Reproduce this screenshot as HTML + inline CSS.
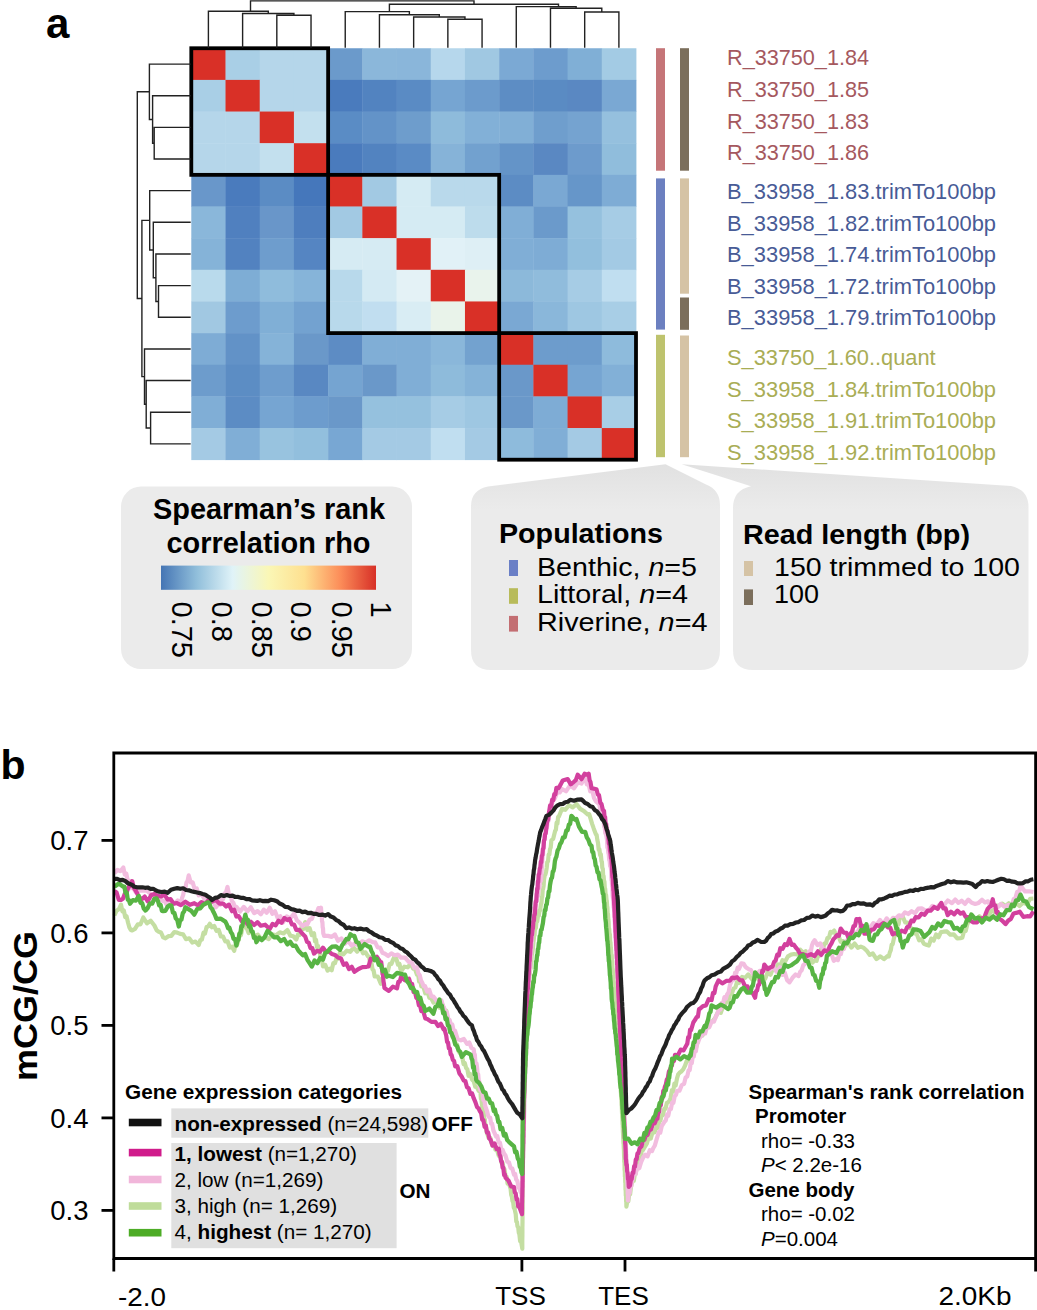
<!DOCTYPE html>
<html><head><meta charset="utf-8"><style>
html,body{margin:0;padding:0;background:#fff;overflow:hidden;}
svg{display:block;}
text{font-family:"Liberation Sans",sans-serif;}
</style></head><body>
<svg width="1037" height="1310" viewBox="0 0 1037 1310" font-family="Liberation Sans, sans-serif">
<rect x="191.3" y="48.25" width="34.61" height="32.05" fill="#d93027"/>
<rect x="225.51" y="48.25" width="34.61" height="32.05" fill="#a9cfe6"/>
<rect x="259.72" y="48.25" width="34.61" height="32.05" fill="#b5d6ea"/>
<rect x="293.92" y="48.25" width="34.61" height="32.05" fill="#b5d6ea"/>
<rect x="328.13" y="48.25" width="34.61" height="32.05" fill="#6b9acb"/>
<rect x="362.34" y="48.25" width="34.61" height="32.05" fill="#8bb7da"/>
<rect x="396.55" y="48.25" width="34.61" height="32.05" fill="#8ab6da"/>
<rect x="430.75" y="48.25" width="34.61" height="32.05" fill="#b6d7ec"/>
<rect x="464.96" y="48.25" width="34.61" height="32.05" fill="#a0c8e2"/>
<rect x="499.17" y="48.25" width="34.61" height="32.05" fill="#7ba9d4"/>
<rect x="533.38" y="48.25" width="34.61" height="32.05" fill="#6d9ccd"/>
<rect x="567.58" y="48.25" width="34.61" height="32.05" fill="#80afd6"/>
<rect x="601.79" y="48.25" width="34.61" height="32.05" fill="#a3cbe4"/>
<rect x="191.3" y="79.9" width="34.61" height="32.05" fill="#a9cfe6"/>
<rect x="225.51" y="79.9" width="34.61" height="32.05" fill="#d93027"/>
<rect x="259.72" y="79.9" width="34.61" height="32.05" fill="#b5d6ea"/>
<rect x="293.92" y="79.9" width="34.61" height="32.05" fill="#b5d6ea"/>
<rect x="328.13" y="79.9" width="34.61" height="32.05" fill="#4a7bbd"/>
<rect x="362.34" y="79.9" width="34.61" height="32.05" fill="#5283c0"/>
<rect x="396.55" y="79.9" width="34.61" height="32.05" fill="#5a8bc4"/>
<rect x="430.75" y="79.9" width="34.61" height="32.05" fill="#76a5d2"/>
<rect x="464.96" y="79.9" width="34.61" height="32.05" fill="#6c9bcc"/>
<rect x="499.17" y="79.9" width="34.61" height="32.05" fill="#5d8dc4"/>
<rect x="533.38" y="79.9" width="34.61" height="32.05" fill="#5a8bc3"/>
<rect x="567.58" y="79.9" width="34.61" height="32.05" fill="#5a88c2"/>
<rect x="601.79" y="79.9" width="34.61" height="32.05" fill="#7aa8d3"/>
<rect x="191.3" y="111.55" width="34.61" height="32.05" fill="#b5d6ea"/>
<rect x="225.51" y="111.55" width="34.61" height="32.05" fill="#b5d6ea"/>
<rect x="259.72" y="111.55" width="34.61" height="32.05" fill="#d93027"/>
<rect x="293.92" y="111.55" width="34.61" height="32.05" fill="#c3e0ee"/>
<rect x="328.13" y="111.55" width="34.61" height="32.05" fill="#5a8cc5"/>
<rect x="362.34" y="111.55" width="34.61" height="32.05" fill="#6393c8"/>
<rect x="396.55" y="111.55" width="34.61" height="32.05" fill="#6e9dcc"/>
<rect x="430.75" y="111.55" width="34.61" height="32.05" fill="#8ebbdb"/>
<rect x="464.96" y="111.55" width="34.61" height="32.05" fill="#82b0d7"/>
<rect x="499.17" y="111.55" width="34.61" height="32.05" fill="#81afd6"/>
<rect x="533.38" y="111.55" width="34.61" height="32.05" fill="#6f9ecd"/>
<rect x="567.58" y="111.55" width="34.61" height="32.05" fill="#75a3d0"/>
<rect x="601.79" y="111.55" width="34.61" height="32.05" fill="#95c0de"/>
<rect x="191.3" y="143.2" width="34.61" height="32.05" fill="#b5d6ea"/>
<rect x="225.51" y="143.2" width="34.61" height="32.05" fill="#b5d6ea"/>
<rect x="259.72" y="143.2" width="34.61" height="32.05" fill="#c3e0ee"/>
<rect x="293.92" y="143.2" width="34.61" height="32.05" fill="#d93027"/>
<rect x="328.13" y="143.2" width="34.61" height="32.05" fill="#4a7bbd"/>
<rect x="362.34" y="143.2" width="34.61" height="32.05" fill="#5283c0"/>
<rect x="396.55" y="143.2" width="34.61" height="32.05" fill="#5a8bc5"/>
<rect x="430.75" y="143.2" width="34.61" height="32.05" fill="#86b3d8"/>
<rect x="464.96" y="143.2" width="34.61" height="32.05" fill="#72a1cf"/>
<rect x="499.17" y="143.2" width="34.61" height="32.05" fill="#6494c8"/>
<rect x="533.38" y="143.2" width="34.61" height="32.05" fill="#5a88c2"/>
<rect x="567.58" y="143.2" width="34.61" height="32.05" fill="#6d9bcc"/>
<rect x="601.79" y="143.2" width="34.61" height="32.05" fill="#90bddc"/>
<rect x="191.3" y="174.85" width="34.61" height="32.05" fill="#6997ca"/>
<rect x="225.51" y="174.85" width="34.61" height="32.05" fill="#4a7bbd"/>
<rect x="259.72" y="174.85" width="34.61" height="32.05" fill="#5b8cc4"/>
<rect x="293.92" y="174.85" width="34.61" height="32.05" fill="#4577bb"/>
<rect x="328.13" y="174.85" width="34.61" height="32.05" fill="#d93027"/>
<rect x="362.34" y="174.85" width="34.61" height="32.05" fill="#a2c9e3"/>
<rect x="396.55" y="174.85" width="34.61" height="32.05" fill="#d5ebf3"/>
<rect x="430.75" y="174.85" width="34.61" height="32.05" fill="#b9d9eb"/>
<rect x="464.96" y="174.85" width="34.61" height="32.05" fill="#b9d9eb"/>
<rect x="499.17" y="174.85" width="34.61" height="32.05" fill="#5c8cc4"/>
<rect x="533.38" y="174.85" width="34.61" height="32.05" fill="#7aa8d3"/>
<rect x="567.58" y="174.85" width="34.61" height="32.05" fill="#6696c9"/>
<rect x="601.79" y="174.85" width="34.61" height="32.05" fill="#7eacd5"/>
<rect x="191.3" y="206.5" width="34.61" height="32.05" fill="#8ab7da"/>
<rect x="225.51" y="206.5" width="34.61" height="32.05" fill="#5080bf"/>
<rect x="259.72" y="206.5" width="34.61" height="32.05" fill="#6996c9"/>
<rect x="293.92" y="206.5" width="34.61" height="32.05" fill="#4e7ebe"/>
<rect x="328.13" y="206.5" width="34.61" height="32.05" fill="#a2c9e3"/>
<rect x="362.34" y="206.5" width="34.61" height="32.05" fill="#d93027"/>
<rect x="396.55" y="206.5" width="34.61" height="32.05" fill="#d5ebf3"/>
<rect x="430.75" y="206.5" width="34.61" height="32.05" fill="#d5ebf3"/>
<rect x="464.96" y="206.5" width="34.61" height="32.05" fill="#bddcec"/>
<rect x="499.17" y="206.5" width="34.61" height="32.05" fill="#80aed6"/>
<rect x="533.38" y="206.5" width="34.61" height="32.05" fill="#6b9acb"/>
<rect x="567.58" y="206.5" width="34.61" height="32.05" fill="#95c1de"/>
<rect x="601.79" y="206.5" width="34.61" height="32.05" fill="#a6cce5"/>
<rect x="191.3" y="238.15" width="34.61" height="32.05" fill="#85b3d8"/>
<rect x="225.51" y="238.15" width="34.61" height="32.05" fill="#5282c0"/>
<rect x="259.72" y="238.15" width="34.61" height="32.05" fill="#6e9dcd"/>
<rect x="293.92" y="238.15" width="34.61" height="32.05" fill="#5585c2"/>
<rect x="328.13" y="238.15" width="34.61" height="32.05" fill="#d6ebf3"/>
<rect x="362.34" y="238.15" width="34.61" height="32.05" fill="#d6ebf3"/>
<rect x="396.55" y="238.15" width="34.61" height="32.05" fill="#d93027"/>
<rect x="430.75" y="238.15" width="34.61" height="32.05" fill="#e1f1f7"/>
<rect x="464.96" y="238.15" width="34.61" height="32.05" fill="#deeff5"/>
<rect x="499.17" y="238.15" width="34.61" height="32.05" fill="#80aed6"/>
<rect x="533.38" y="238.15" width="34.61" height="32.05" fill="#7eacd5"/>
<rect x="567.58" y="238.15" width="34.61" height="32.05" fill="#92bfdd"/>
<rect x="601.79" y="238.15" width="34.61" height="32.05" fill="#a3cae4"/>
<rect x="191.3" y="269.8" width="34.61" height="32.05" fill="#b9daec"/>
<rect x="225.51" y="269.8" width="34.61" height="32.05" fill="#7eadd5"/>
<rect x="259.72" y="269.8" width="34.61" height="32.05" fill="#8fbcdc"/>
<rect x="293.92" y="269.8" width="34.61" height="32.05" fill="#86b4d9"/>
<rect x="328.13" y="269.8" width="34.61" height="32.05" fill="#b8d9eb"/>
<rect x="362.34" y="269.8" width="34.61" height="32.05" fill="#d4eaf3"/>
<rect x="396.55" y="269.8" width="34.61" height="32.05" fill="#e4f2f6"/>
<rect x="430.75" y="269.8" width="34.61" height="32.05" fill="#d93027"/>
<rect x="464.96" y="269.8" width="34.61" height="32.05" fill="#e9f3ec"/>
<rect x="499.17" y="269.8" width="34.61" height="32.05" fill="#8cb9da"/>
<rect x="533.38" y="269.8" width="34.61" height="32.05" fill="#90bcdc"/>
<rect x="567.58" y="269.8" width="34.61" height="32.05" fill="#a6cce5"/>
<rect x="601.79" y="269.8" width="34.61" height="32.05" fill="#c0def0"/>
<rect x="191.3" y="301.45" width="34.61" height="32.05" fill="#a1c8e2"/>
<rect x="225.51" y="301.45" width="34.61" height="32.05" fill="#6d9ccd"/>
<rect x="259.72" y="301.45" width="34.61" height="32.05" fill="#80afd6"/>
<rect x="293.92" y="301.45" width="34.61" height="32.05" fill="#73a2d0"/>
<rect x="328.13" y="301.45" width="34.61" height="32.05" fill="#b8d9eb"/>
<rect x="362.34" y="301.45" width="34.61" height="32.05" fill="#c1def0"/>
<rect x="396.55" y="301.45" width="34.61" height="32.05" fill="#d9edf4"/>
<rect x="430.75" y="301.45" width="34.61" height="32.05" fill="#e9f3ea"/>
<rect x="464.96" y="301.45" width="34.61" height="32.05" fill="#d93027"/>
<rect x="499.17" y="301.45" width="34.61" height="32.05" fill="#7aa8d3"/>
<rect x="533.38" y="301.45" width="34.61" height="32.05" fill="#8ab7da"/>
<rect x="567.58" y="301.45" width="34.61" height="32.05" fill="#9ec7e2"/>
<rect x="601.79" y="301.45" width="34.61" height="32.05" fill="#a8cee6"/>
<rect x="191.3" y="333.1" width="34.61" height="32.05" fill="#7eacd5"/>
<rect x="225.51" y="333.1" width="34.61" height="32.05" fill="#6292c7"/>
<rect x="259.72" y="333.1" width="34.61" height="32.05" fill="#85b3d8"/>
<rect x="293.92" y="333.1" width="34.61" height="32.05" fill="#6a98c9"/>
<rect x="328.13" y="333.1" width="34.61" height="32.05" fill="#5d8cc4"/>
<rect x="362.34" y="333.1" width="34.61" height="32.05" fill="#80aed6"/>
<rect x="396.55" y="333.1" width="34.61" height="32.05" fill="#80aed6"/>
<rect x="430.75" y="333.1" width="34.61" height="32.05" fill="#8ab7da"/>
<rect x="464.96" y="333.1" width="34.61" height="32.05" fill="#73a2cf"/>
<rect x="499.17" y="333.1" width="34.61" height="32.05" fill="#d93027"/>
<rect x="533.38" y="333.1" width="34.61" height="32.05" fill="#6d9ccc"/>
<rect x="567.58" y="333.1" width="34.61" height="32.05" fill="#6d9ccc"/>
<rect x="601.79" y="333.1" width="34.61" height="32.05" fill="#8ebbdc"/>
<rect x="191.3" y="364.75" width="34.61" height="32.05" fill="#6d9ccc"/>
<rect x="225.51" y="364.75" width="34.61" height="32.05" fill="#5c8dc4"/>
<rect x="259.72" y="364.75" width="34.61" height="32.05" fill="#6e9dcd"/>
<rect x="293.92" y="364.75" width="34.61" height="32.05" fill="#5988c2"/>
<rect x="328.13" y="364.75" width="34.61" height="32.05" fill="#75a4d1"/>
<rect x="362.34" y="364.75" width="34.61" height="32.05" fill="#6a98c9"/>
<rect x="396.55" y="364.75" width="34.61" height="32.05" fill="#80aed6"/>
<rect x="430.75" y="364.75" width="34.61" height="32.05" fill="#8ebbdb"/>
<rect x="464.96" y="364.75" width="34.61" height="32.05" fill="#85b3d8"/>
<rect x="499.17" y="364.75" width="34.61" height="32.05" fill="#6a98c9"/>
<rect x="533.38" y="364.75" width="34.61" height="32.05" fill="#d93027"/>
<rect x="567.58" y="364.75" width="34.61" height="32.05" fill="#76a5d2"/>
<rect x="601.79" y="364.75" width="34.61" height="32.05" fill="#82b0d7"/>
<rect x="191.3" y="396.4" width="34.61" height="32.05" fill="#80aed6"/>
<rect x="225.51" y="396.4" width="34.61" height="32.05" fill="#5c8cc4"/>
<rect x="259.72" y="396.4" width="34.61" height="32.05" fill="#76a5d2"/>
<rect x="293.92" y="396.4" width="34.61" height="32.05" fill="#6d9ccd"/>
<rect x="328.13" y="396.4" width="34.61" height="32.05" fill="#6a98c9"/>
<rect x="362.34" y="396.4" width="34.61" height="32.05" fill="#95c1de"/>
<rect x="396.55" y="396.4" width="34.61" height="32.05" fill="#95c1de"/>
<rect x="430.75" y="396.4" width="34.61" height="32.05" fill="#a6cce5"/>
<rect x="464.96" y="396.4" width="34.61" height="32.05" fill="#9ec7e2"/>
<rect x="499.17" y="396.4" width="34.61" height="32.05" fill="#6a98c9"/>
<rect x="533.38" y="396.4" width="34.61" height="32.05" fill="#7eacd5"/>
<rect x="567.58" y="396.4" width="34.61" height="32.05" fill="#d93027"/>
<rect x="601.79" y="396.4" width="34.61" height="32.05" fill="#a8cee6"/>
<rect x="191.3" y="428.05" width="34.61" height="32.05" fill="#a4cae4"/>
<rect x="225.51" y="428.05" width="34.61" height="32.05" fill="#80aed6"/>
<rect x="259.72" y="428.05" width="34.61" height="32.05" fill="#98c3df"/>
<rect x="293.92" y="428.05" width="34.61" height="32.05" fill="#92bfdd"/>
<rect x="328.13" y="428.05" width="34.61" height="32.05" fill="#78a7d3"/>
<rect x="362.34" y="428.05" width="34.61" height="32.05" fill="#a4cae4"/>
<rect x="396.55" y="428.05" width="34.61" height="32.05" fill="#a4cae4"/>
<rect x="430.75" y="428.05" width="34.61" height="32.05" fill="#c0def0"/>
<rect x="464.96" y="428.05" width="34.61" height="32.05" fill="#a4cae4"/>
<rect x="499.17" y="428.05" width="34.61" height="32.05" fill="#8ebbdc"/>
<rect x="533.38" y="428.05" width="34.61" height="32.05" fill="#80aed6"/>
<rect x="567.58" y="428.05" width="34.61" height="32.05" fill="#a4cae4"/>
<rect x="601.79" y="428.05" width="34.61" height="32.05" fill="#d93027"/>
<rect x="191.3" y="48.25" width="136.83" height="126.6" fill="none" stroke="#000" stroke-width="3.8"/>
<rect x="328.13" y="174.85" width="171.04" height="158.25" fill="none" stroke="#000" stroke-width="3.8"/>
<rect x="499.17" y="333.1" width="136.83" height="126.6" fill="none" stroke="#000" stroke-width="3.8"/>
<path d="M276.82 15.3L311.03 15.3M276.82 15.3L276.82 47M311.03 15.3L311.03 47M242.61 13.5L293.92 13.5M293.92 13.5L293.92 15.3M242.61 13.5L242.61 47M208.4 11.3L268.27 11.3M268.27 11.3L268.27 13.5M208.4 11.3L208.4 47M250.5 0.9L250.5 11.3M447.86 19.3L482.07 19.3M447.86 19.3L447.86 47M482.07 19.3L482.07 47M413.65 17L464.96 17M464.96 17L464.96 19.3M413.65 17L413.65 47M379.44 14.7L439.31 14.7M439.31 14.7L439.31 17M379.44 14.7L379.44 47M345.23 11.6L409.37 11.6M409.37 11.6L409.37 14.7M345.23 11.6L345.23 47M389.4 4.3L389.4 11.6M584.69 12L618.9 12M584.69 12L584.69 47M618.9 12L618.9 47M550.48 8.2L601.79 8.2M601.79 8.2L601.79 12M550.48 8.2L550.48 47M516.27 6.6L576.14 6.6M576.14 6.6L576.14 8.2M516.27 6.6L516.27 47M558.5 4.3L558.5 6.6M389.4 4.3L558.5 4.3M474 0.9L474 4.3M250.5 0.9L474 0.9M154.2 127.38L154.2 159.02M154.2 127.38L190 127.38M154.2 159.02L190 159.02M152.6 95.72L152.6 143.2M152.6 143.2L154.2 143.2M152.6 95.72L190 95.72M149.4 64.08L149.4 119.46M149.4 119.46L152.6 119.46M149.4 64.08L190 64.08M137.3 91.77L149.4 91.77M158.5 285.62L158.5 317.27M158.5 285.62L190 285.62M158.5 317.27L190 317.27M155.9 253.97L155.9 301.45M155.9 301.45L158.5 301.45M155.9 253.97L190 253.97M153.3 222.32L153.3 277.71M153.3 277.71L155.9 277.71M153.3 222.32L190 222.32M149.7 190.67L149.7 250.02M149.7 250.02L153.3 250.02M149.7 190.67L190 190.67M141.9 220.35L149.7 220.35M150.6 412.22L150.6 443.88M150.6 412.22L190 412.22M150.6 443.88L190 443.88M146.2 380.57L146.2 428.05M146.2 428.05L150.6 428.05M146.2 380.57L190 380.57M144.5 348.93L144.5 404.31M144.5 404.31L146.2 404.31M144.5 348.93L190 348.93M141.9 376.62L144.5 376.62M141.9 220.35L141.9 376.62M137.3 298.48L141.9 298.48M137.3 91.77L137.3 298.48" stroke="#222" stroke-width="1.4" fill="none" stroke-linecap="square"/>
<rect x="656" y="48.2" width="9" height="122.5" fill="#c57578"/>
<rect x="656" y="178.4" width="9" height="151.2" fill="#6c80c0"/>
<rect x="656" y="334.8" width="9" height="122.4" fill="#bec36e"/>
<rect x="680" y="48.2" width="9" height="122.5" fill="#7b6e5b"/>
<rect x="680" y="178.4" width="9" height="115.3" fill="#d5c3a5"/>
<rect x="680" y="297.5" width="9" height="32.3" fill="#7b6e5b"/>
<rect x="680" y="335.5" width="9" height="121.7" fill="#d5c3a5"/>
<text x="727" y="65.1" font-size="21.5" fill="#a5585e" textLength="142" lengthAdjust="spacingAndGlyphs">R_33750_1.84</text>
<text x="727" y="96.9" font-size="21.5" fill="#a5585e" textLength="142" lengthAdjust="spacingAndGlyphs">R_33750_1.85</text>
<text x="727" y="128.6" font-size="21.5" fill="#a5585e" textLength="142" lengthAdjust="spacingAndGlyphs">R_33750_1.83</text>
<text x="727" y="160.4" font-size="21.5" fill="#a5585e" textLength="142" lengthAdjust="spacingAndGlyphs">R_33750_1.86</text>
<text x="727" y="199.0" font-size="21.5" fill="#485b96" textLength="269" lengthAdjust="spacingAndGlyphs">B_33958_1.83.trimTo100bp</text>
<text x="727" y="230.5" font-size="21.5" fill="#485b96" textLength="269" lengthAdjust="spacingAndGlyphs">B_33958_1.82.trimTo100bp</text>
<text x="727" y="262.0" font-size="21.5" fill="#485b96" textLength="269" lengthAdjust="spacingAndGlyphs">B_33958_1.74.trimTo100bp</text>
<text x="727" y="293.5" font-size="21.5" fill="#485b96" textLength="269" lengthAdjust="spacingAndGlyphs">B_33958_1.72.trimTo100bp</text>
<text x="727" y="325.0" font-size="21.5" fill="#485b96" textLength="269" lengthAdjust="spacingAndGlyphs">B_33958_1.79.trimTo100bp</text>
<text x="727" y="364.9" font-size="21.5" fill="#a9ad55" textLength="208.6" lengthAdjust="spacingAndGlyphs">S_33750_1.60..quant</text>
<text x="727" y="396.6" font-size="21.5" fill="#a9ad55" textLength="269" lengthAdjust="spacingAndGlyphs">S_33958_1.84.trimTo100bp</text>
<text x="727" y="428.3" font-size="21.5" fill="#a9ad55" textLength="269" lengthAdjust="spacingAndGlyphs">S_33958_1.91.trimTo100bp</text>
<text x="727" y="460.0" font-size="21.5" fill="#a9ad55" textLength="269" lengthAdjust="spacingAndGlyphs">S_33958_1.92.trimTo100bp</text>
<defs><linearGradient id="wg" gradientUnits="userSpaceOnUse" x1="0" y1="464" x2="0" y2="510"><stop offset="0" stop-color="#e1e1e1"/><stop offset="1" stop-color="#ebebeb"/></linearGradient></defs>
<rect x="121" y="486.6" width="291" height="182.5" rx="20" fill="#ebebeb"/>
<path d="M665.5 464.2 L706 484.5 Q720 490 720 505 L720 650 Q720 670 700 670 L491 670 Q471 670 471 650 L471 506 Q471 490 488 486.4 Z" fill="url(#wg)"/>
<path d="M681.7 464.2 L1011 486 Q1028.5 490 1028.5 507 L1028.5 650 Q1028.5 670 1008.5 670 L753 670 Q733 670 733 650 L733 508 Q733 490 751 486.3 Z" fill="url(#wg)"/>
<defs><linearGradient id="cb" x1="0" x2="1" y1="0" y2="0"><stop offset="0" stop-color="#4575B4"/><stop offset="0.1667" stop-color="#91BFDB"/><stop offset="0.3333" stop-color="#E0F3F8"/><stop offset="0.5" stop-color="#faf7b6"/><stop offset="0.6667" stop-color="#FEE090"/><stop offset="0.8333" stop-color="#FC8D59"/><stop offset="1" stop-color="#D73027"/></linearGradient></defs>
<rect x="161" y="565.6" width="215" height="24.2" fill="url(#cb)"/>
<text x="153" y="519" font-size="29" font-weight="bold" textLength="232" lengthAdjust="spacingAndGlyphs">Spearman’s rank</text>
<text x="166.5" y="552.5" font-size="29" font-weight="bold" textLength="204" lengthAdjust="spacingAndGlyphs">correlation rho</text>
<text transform="translate(172.2 601.5) rotate(90)" x="0" y="0" font-size="29">0.75</text>
<text transform="translate(212.2 601.5) rotate(90)" x="0" y="0" font-size="29">0.8</text>
<text transform="translate(252.2 601.5) rotate(90)" x="0" y="0" font-size="29">0.85</text>
<text transform="translate(291.2 601.5) rotate(90)" x="0" y="0" font-size="29">0.9</text>
<text transform="translate(332.2 601.5) rotate(90)" x="0" y="0" font-size="29">0.95</text>
<text transform="translate(371.2 601.5) rotate(90)" x="0" y="0" font-size="29">1</text>
<text x="499" y="543.1" font-size="28" font-weight="bold" textLength="164" lengthAdjust="spacingAndGlyphs">Populations</text>
<rect x="509" y="560" width="9" height="16" fill="#6a7fc6"/>
<rect x="509" y="588.2" width="9" height="15.6" fill="#b8bb5a"/>
<rect x="509" y="615.9" width="9" height="15.7" fill="#c36e72"/>
<text x="537" y="575.6" font-size="26" textLength="160" lengthAdjust="spacingAndGlyphs">Benthic, <tspan font-style="italic">n</tspan>=5</text>
<text x="537" y="603.4" font-size="26" textLength="151" lengthAdjust="spacingAndGlyphs">Littoral, <tspan font-style="italic">n</tspan>=4</text>
<text x="537" y="630.8" font-size="26" textLength="170.5" lengthAdjust="spacingAndGlyphs">Riverine, <tspan font-style="italic">n</tspan>=4</text>
<text x="743" y="543.5" font-size="28" font-weight="bold" textLength="227" lengthAdjust="spacingAndGlyphs">Read length (bp)</text>
<rect x="744" y="561" width="9" height="15" fill="#d5c3a5"/>
<rect x="744" y="589.4" width="9" height="15.6" fill="#7b6e5b"/>
<text x="774" y="576" font-size="26" textLength="246" lengthAdjust="spacingAndGlyphs">150 trimmed to 100</text>
<text x="774" y="602.7" font-size="26" textLength="45" lengthAdjust="spacingAndGlyphs">100</text>
<text x="46" y="38" font-size="42" font-weight="bold">a</text>
<text x="0.5" y="779" font-size="41" font-weight="bold">b</text>
<rect x="171.3" y="1108.4" width="257" height="29.3" fill="#e0e0e0"/>
<rect x="171.3" y="1143" width="225.3" height="105.2" fill="#e0e0e0"/>
<path d="M114.4 915.4 L116.6 910.7 L118.8 909.3 L121.0 904.7 L122.4 911.4 L123.8 910.4 L125.2 917.0 L126.6 916.4 L128.0 922.5 L129.4 927.5 L130.8 929.9 L132.2 930.4 L135.0 928.9 L137.8 924.3 L140.5 924.3 L143.3 917.5 L147.0 923.4 L150.7 920.8 L154.4 925.5 L156.6 930.2 L158.8 931.7 L161.0 932.5 L163.2 937.4 L165.4 938.3 L168.4 936.2 L171.3 935.9 L174.3 932.0 L177.2 932.6 L180.2 933.9 L183.1 934.3 L186.0 939.2 L189.2 938.3 L192.3 942.6 L195.5 941.6 L198.7 945.0 L200.3 940.2 L201.9 939.5 L203.5 932.6 L205.0 933.6 L206.6 926.9 L208.2 926.4 L209.8 923.8 L212.0 927.3 L214.2 926.0 L216.5 930.9 L218.7 930.0 L220.9 936.5 L223.1 936.7 L225.3 941.3 L227.6 941.3 L229.8 947.6 L232.0 946.7 L234.2 950.8 L235.3 945.3 L236.4 945.7 L237.5 943.5 L238.6 939.7 L239.8 933.0 L240.9 935.3 L242.0 930.1 L243.1 927.3 L245.9 926.0 L248.6 933.1 L251.4 930.8 L254.2 936.6 L257.9 934.7 L261.5 939.4 L265.2 937.3 L268.8 939.1 L272.4 934.3 L276.0 935.2 L279.8 932.3 L283.6 933.4 L287.4 930.1 L290.4 935.8 L293.3 936.3 L296.3 939.5 L298.1 934.3 L299.9 934.9 L301.6 926.9 L303.4 928.9 L305.2 922.1 L307.4 929.9 L309.6 928.1 L311.8 935.2 L314.0 933.3 L315.0 941.2 L316.0 939.7 L317.0 947.1 L318.0 945.9 L318.9 951.8 L319.9 953.2 L320.9 959.7 L321.9 959.0 L322.9 966.3 L325.3 965.0 L327.6 970.6 L330.0 968.6 L331.7 970.2 L333.3 963.1 L335.0 963.1 L336.7 957.3 L338.3 958.6 L340.0 952.4 L343.4 954.4 L346.8 950.7 L350.2 951.8 L353.7 947.7 L357.1 951.6 L360.5 947.4 L363.0 953.3 L365.5 952.3 L368.0 956.3 L369.1 956.7 L370.2 963.6 L371.4 962.3 L372.5 969.3 L373.6 970.5 L374.7 976.5 L377.8 976.5 L380.8 983.7 L382.6 978.0 L384.4 975.9 L386.1 969.6 L387.9 971.0 L389.7 963.8 L391.4 963.9 L393.2 959.4 L395.0 955.5 L396.5 959.3 L398.0 964.6 L399.5 964.0 L401.0 971.6 L404.3 966.7 L407.7 967.3 L411.0 963.4 L413.0 968.6 L415.0 969.0 L417.0 974.7 L418.1 973.8 L419.1 981.5 L420.2 979.9 L421.3 986.5 L423.3 986.4 L425.3 993.3 L427.4 991.6 L429.4 997.8 L431.4 998.6 L433.4 1002.5 L436.4 1001.1 L439.5 1007.7 L442.6 1005.0 L445.6 1012.3 L446.3 1010.7 L447.1 1019.0 L447.8 1019.0 L448.5 1024.7 L449.3 1024.3 L450.0 1030.6 L451.4 1030.9 L452.8 1037.6 L454.2 1037.7 L455.7 1044.2 L457.1 1044.5 L458.5 1051.1 L459.8 1052.9 L461.0 1053.6 L462.3 1057.1 L463.6 1064.0 L464.8 1063.0 L466.1 1068.0 L467.3 1069.2 L468.6 1075.8 L470.3 1074.0 L472.0 1079.5 L473.7 1081.2 L475.3 1086.8 L477.0 1087.3 L478.7 1090.9 L480.4 1091.3 L480.9 1098.7 L481.5 1099.7 L482.0 1105.3 L482.6 1109.5 L483.1 1112.1 L483.7 1112.3 L484.2 1119.5 L484.8 1119.3 L485.4 1125.9 L485.9 1125.2 L486.4 1131.3 L487.0 1132.9 L488.7 1138.2 L490.4 1137.9 L492.1 1145.0 L493.8 1144.0 L495.4 1149.7 L497.1 1150.1 L498.8 1156.0 L500.5 1156.6 L501.5 1162.8 L502.5 1162.5 L503.5 1168.2 L504.5 1169.4 L505.6 1176.6 L506.6 1176.6 L507.6 1183.6 L508.6 1181.5 L509.6 1185.6 L510.6 1188.8 L511.2 1194.9 L511.9 1196.9 L512.5 1201.3 L513.1 1201.5 L513.8 1207.8 L514.4 1207.3 L515.0 1210.9 L515.7 1214.0 L516.3 1221.5 L516.9 1221.8 L517.5 1226.4 L518.2 1227.2 L518.8 1232.9 L519.4 1234.2 L520.1 1241.1 L520.7 1239.2 L522.3 1248.7 L522.3 1240.5 L522.3 1241.2 L522.4 1234.9 L522.4 1233.8 L522.4 1227.5 L522.4 1228.4 L522.5 1222.1 L522.5 1221.3 L522.5 1216.6 L522.5 1215.7 L522.6 1208.3 L522.6 1209.1 L522.6 1202.7 L522.6 1202.9 L522.6 1195.4 L522.7 1197.1 L522.7 1191.1 L522.7 1190.5 L522.7 1182.9 L522.8 1183.5 L522.8 1178.1 L522.8 1177.2 L522.8 1171.0 L522.9 1171.2 L522.9 1163.3 L522.9 1164.1 L522.9 1157.8 L523.0 1157.8 L523.0 1154.0 L523.0 1152.3 L523.1 1144.1 L523.1 1145.8 L523.2 1138.9 L523.3 1138.1 L523.3 1133.1 L523.4 1133.2 L523.5 1125.7 L523.5 1124.6 L523.6 1121.7 L523.6 1115.4 L523.7 1112.3 L523.8 1113.9 L523.8 1106.4 L523.9 1106.5 L524.0 1100.9 L524.0 1097.9 L524.1 1093.3 L524.2 1093.1 L524.2 1086.9 L524.3 1087.6 L524.4 1081.7 L524.4 1079.7 L524.5 1073.6 L524.5 1075.2 L524.6 1068.7 L524.7 1068.6 L524.7 1060.3 L524.8 1061.3 L524.9 1055.0 L524.9 1055.9 L525.0 1048.4 L525.2 1048.4 L525.4 1042.5 L525.6 1041.6 L525.8 1036.0 L526.0 1034.2 L526.1 1027.9 L526.3 1027.8 L526.5 1021.8 L526.7 1021.7 L526.9 1019.2 L527.1 1014.4 L527.3 1007.4 L527.5 1008.6 L527.7 1002.2 L527.9 1001.8 L528.0 994.7 L528.2 994.3 L528.4 987.2 L528.6 988.8 L528.8 982.6 L529.0 981.5 L529.4 975.9 L529.8 974.1 L530.2 967.9 L530.6 968.6 L531.0 961.7 L531.4 961.3 L531.8 954.2 L532.2 954.2 L532.6 950.7 L533.0 947.7 L533.4 942.2 L533.8 939.3 L534.2 933.9 L534.6 935.1 L535.0 927.4 L535.8 928.3 L536.5 921.2 L537.2 921.4 L538.0 915.9 L538.8 915.6 L539.5 910.5 L540.2 910.2 L541.0 903.8 L541.4 903.5 L541.9 897.0 L542.3 896.5 L542.7 889.9 L543.1 889.0 L543.6 886.0 L544.0 879.7 L544.7 875.6 L545.3 874.8 L546.0 872.2 L546.7 868.0 L547.3 862.0 L548.0 861.4 L548.7 854.5 L549.4 854.4 L550.0 849.3 L550.7 847.5 L551.4 840.3 L553.2 838.8 L555.1 830.9 L555.9 829.8 L556.6 822.7 L557.4 823.7 L558.1 816.9 L558.9 816.5 L562.0 808.8 L565.2 809.8 L569.0 805.2 L572.7 807.4 L576.5 804.1 L580.2 808.9 L584.0 811.1 L587.7 814.5 L589.2 814.1 L590.7 819.2 L592.2 824.1 L593.7 828.4 L595.2 832.4 L595.9 834.3 L596.6 834.7 L597.3 839.8 L598.0 842.7 L598.7 849.7 L599.4 849.3 L600.1 855.1 L600.8 854.2 L601.5 861.6 L601.9 861.6 L602.3 867.9 L602.8 868.6 L603.2 876.1 L603.6 876.0 L604.0 881.2 L604.4 881.3 L604.8 887.8 L605.2 888.9 L605.7 895.6 L606.1 894.9 L606.5 899.9 L606.8 900.8 L607.1 905.8 L607.4 907.3 L607.7 914.4 L608.0 914.0 L608.3 919.4 L608.6 921.6 L608.9 929.4 L609.2 928.9 L609.6 935.0 L609.9 934.3 L610.2 941.9 L610.5 942.4 L610.8 947.8 L611.1 950.1 L611.4 956.1 L611.7 954.9 L612.0 962.3 L612.2 960.9 L612.5 968.5 L612.7 968.8 L613.0 974.1 L613.2 975.1 L613.4 980.5 L613.7 982.2 L613.9 988.2 L614.1 987.7 L614.4 991.7 L614.6 994.9 L614.9 1002.4 L615.1 1002.1 L615.3 1007.9 L615.6 1007.8 L615.8 1015.4 L616.0 1015.2 L616.3 1022.7 L616.5 1024.2 L616.8 1028.1 L617.0 1028.9 L617.2 1034.8 L617.4 1033.6 L617.6 1040.6 L617.8 1041.6 L618.0 1047.8 L618.2 1047.9 L618.4 1054.5 L618.6 1054.6 L618.8 1060.1 L619.0 1062.4 L619.2 1066.5 L619.4 1066.1 L619.6 1072.4 L619.8 1072.7 L620.0 1079.5 L620.2 1081.7 L620.4 1085.5 L620.6 1086.8 L620.8 1091.5 L621.0 1093.6 L621.2 1099.2 L621.4 1098.0 L621.6 1104.9 L621.8 1106.2 L622.0 1112.1 L622.1 1114.8 L622.3 1118.3 L622.4 1118.3 L622.6 1124.8 L622.7 1124.6 L622.9 1131.5 L623.0 1133.0 L623.2 1137.9 L623.3 1139.1 L623.5 1143.7 L623.6 1143.0 L623.8 1148.5 L623.9 1149.2 L624.1 1157.5 L624.2 1157.0 L624.3 1162.3 L624.5 1162.3 L624.6 1170.2 L624.8 1169.2 L624.9 1176.7 L625.1 1174.6 L625.2 1182.2 L625.4 1182.4 L625.5 1189.6 L625.7 1190.6 L625.8 1195.6 L626.0 1193.8 L626.1 1201.4 L626.3 1201.0 L626.4 1206.7 L627.3 1201.5 L628.3 1201.4 L629.2 1194.2 L630.1 1194.4 L631.0 1187.1 L631.9 1183.1 L632.9 1181.0 L633.8 1180.8 L634.7 1175.2 L635.6 1174.1 L636.5 1168.4 L637.4 1167.2 L638.3 1162.4 L639.2 1160.7 L640.2 1155.4 L641.1 1155.8 L642.0 1148.3 L642.9 1150.1 L644.9 1146.7 L646.8 1143.6 L648.8 1136.9 L650.7 1138.6 L652.7 1131.6 L654.6 1132.3 L656.6 1126.4 L657.9 1127.8 L659.2 1121.6 L660.4 1120.5 L661.7 1115.2 L663.0 1115.2 L664.3 1108.6 L665.5 1108.7 L666.8 1103.1 L668.1 1102.2 L669.4 1101.1 L670.6 1097.9 L671.9 1090.0 L673.2 1091.5 L674.4 1083.6 L675.7 1085.5 L677.0 1078.3 L678.2 1074.3 L679.5 1072.8 L681.3 1071.5 L683.2 1069.4 L685.0 1065.8 L686.9 1060.5 L688.7 1060.6 L690.5 1053.1 L692.4 1054.3 L694.2 1047.4 L696.1 1047.8 L697.9 1040.3 L699.4 1038.1 L700.9 1035.0 L702.5 1035.6 L704.0 1027.8 L705.5 1029.3 L707.0 1022.9 L709.8 1022.7 L712.5 1021.2 L715.3 1017.7 L718.0 1011.8 L720.8 1012.9 L722.6 1007.8 L724.5 1006.8 L726.3 1001.5 L728.2 1001.7 L730.0 994.2 L731.8 993.5 L733.6 988.5 L735.4 987.5 L737.2 981.3 L739.0 982.9 L742.1 976.9 L745.1 977.8 L748.2 974.4 L752.1 979.4 L756.1 977.3 L760.0 981.1 L762.6 976.3 L765.2 978.8 L767.9 971.7 L770.5 974.7 L773.1 967.9 L775.7 969.7 L778.0 964.4 L780.3 966.1 L782.6 960.1 L784.9 962.0 L788.0 956.3 L791.0 954.6 L794.0 954.0 L797.1 954.5 L800.2 949.6 L803.2 952.7 L805.6 951.2 L807.9 957.2 L810.3 957.2 L812.6 962.5 L815.0 960.3 L816.6 960.8 L818.1 955.3 L819.7 955.6 L821.2 948.7 L822.8 950.8 L824.3 943.5 L825.9 943.4 L827.4 938.1 L829.0 937.7 L830.5 931.8 L832.1 932.5 L834.2 930.6 L836.4 936.5 L838.5 935.7 L840.7 941.8 L842.9 941.1 L845.0 946.0 L848.2 942.6 L851.4 947.6 L854.6 943.5 L857.8 947.8 L860.8 946.6 L863.8 947.9 L866.8 950.8 L869.8 954.9 L872.8 953.5 L876.5 959.1 L880.3 956.3 L884.0 959.1 L887.8 955.9 L888.8 956.5 L889.8 952.5 L890.8 950.1 L891.7 944.6 L892.7 944.2 L893.7 939.3 L894.7 935.2 L895.7 929.7 L896.7 931.2 L897.6 924.2 L898.6 924.1 L899.6 918.0 L900.6 917.3 L902.9 917.0 L905.2 922.4 L907.4 922.6 L909.7 927.9 L912.0 928.6 L914.4 933.2 L916.8 934.1 L919.1 940.4 L921.5 939.2 L923.9 943.9 L926.3 944.8 L928.8 945.6 L931.2 938.6 L933.7 940.6 L936.1 934.5 L938.6 937.2 L941.0 932.1 L943.5 931.7 L946.9 931.4 L950.3 934.7 L953.8 934.3 L957.2 938.3 L960.6 938.1 L962.3 937.8 L964.0 931.3 L965.7 931.1 L967.4 924.1 L969.1 920.6 L972.5 919.5 L976.0 920.2 L979.4 916.3 L982.9 919.4 L986.3 914.6 L988.9 916.2 L991.4 909.3 L994.0 912.0 L996.5 905.7 L999.1 905.8 L1002.3 903.6 L1005.5 906.4 L1008.8 903.3 L1012.0 905.9 L1015.8 902.8 L1019.5 906.0 L1023.2 902.6 L1027.0 904.3 L1030.2 898.8 L1033.4 898.5" fill="none" stroke="#c4dea2" stroke-width="4.2" stroke-linejoin="round" opacity="1.0"/>
<path d="M114.4 873.3 L117.4 869.8 L120.3 871.2 L123.3 867.5 L124.8 874.6 L126.3 873.6 L127.8 880.9 L129.2 880.6 L130.7 888.1 L132.2 886.4 L135.9 892.4 L139.6 890.3 L143.3 890.6 L147.0 890.7 L150.7 894.1 L154.4 895.8 L157.1 897.0 L159.7 896.5 L162.4 900.9 L165.0 901.5 L167.7 906.8 L171.0 901.8 L174.3 903.8 L177.7 900.5 L181.0 902.7 L182.1 897.7 L183.2 895.0 L184.3 888.4 L185.4 888.3 L186.5 882.4 L187.6 880.9 L188.7 875.3 L190.7 882.5 L192.7 882.4 L194.7 889.3 L196.7 888.4 L198.7 895.4 L201.6 894.0 L204.4 899.1 L207.3 897.4 L210.1 902.1 L213.0 900.1 L215.8 907.4 L218.7 904.0 L220.2 904.6 L221.6 898.1 L223.1 898.9 L224.6 893.4 L226.0 892.3 L227.5 886.9 L229.0 894.9 L230.5 894.9 L231.9 901.1 L233.4 902.9 L234.9 907.2 L236.4 906.8 L240.1 911.5 L243.8 906.9 L247.5 911.3 L250.8 907.2 L254.2 913.1 L257.5 911.1 L260.8 914.3 L263.8 909.6 L266.7 912.8 L269.7 907.7 L272.4 913.8 L275.0 911.3 L277.7 918.0 L280.3 916.2 L283.0 922.5 L286.7 916.5 L290.4 918.3 L294.1 913.6 L296.9 920.3 L299.6 922.6 L302.4 926.0 L305.2 924.2 L307.4 924.4 L309.6 919.6 L311.8 919.0 L314.1 913.2 L316.3 914.0 L318.5 908.0 L320.7 908.1 L321.0 907.7 L321.4 913.8 L321.7 914.1 L322.0 921.5 L322.4 921.9 L322.7 927.5 L323.0 928.1 L323.3 933.6 L323.7 934.2 L324.0 935.9 L327.9 935.9 L331.8 936.9 L334.9 934.4 L338.0 940.8 L341.4 938.4 L344.8 943.7 L348.2 940.9 L351.6 945.6 L355.0 943.2 L358.5 945.6 L362.1 941.3 L365.6 942.8 L369.2 940.3 L372.7 942.1 L375.2 942.3 L377.6 947.3 L380.1 947.5 L382.5 952.8 L385.0 953.8 L388.2 956.0 L391.4 953.3 L394.6 955.2 L397.8 954.6 L401.0 957.6 L405.0 957.5 L409.0 962.1 L411.7 962.3 L414.3 967.8 L417.0 967.2 L418.3 973.1 L419.7 975.1 L421.0 980.4 L422.3 982.8 L423.7 986.2 L425.0 986.1 L427.1 991.5 L429.2 989.7 L431.3 996.1 L433.4 996.6 L437.4 1001.7 L441.5 1000.5 L442.9 1005.8 L444.2 1008.2 L445.6 1012.7 L446.9 1012.1 L448.2 1018.7 L449.6 1019.8 L450.9 1024.4 L452.3 1024.4 L453.6 1030.6 L455.0 1030.7 L456.3 1034.9 L457.7 1039.1 L460.8 1040.3 L463.9 1039.0 L467.0 1043.9 L469.2 1042.4 L471.5 1048.0 L473.7 1049.3 L474.3 1054.3 L474.8 1054.4 L475.4 1062.4 L475.9 1064.3 L476.5 1063.5 L477.0 1066.7 L477.6 1073.6 L478.2 1074.3 L478.7 1080.3 L479.3 1081.5 L479.8 1088.2 L480.4 1090.2 L481.4 1091.0 L482.3 1092.2 L483.3 1100.0 L484.3 1099.9 L485.3 1106.3 L486.2 1108.6 L487.2 1111.6 L488.2 1116.0 L489.2 1117.4 L490.2 1117.7 L491.1 1123.6 L492.1 1123.7 L493.4 1130.5 L494.7 1133.3 L496.0 1136.6 L497.3 1136.1 L498.7 1142.4 L500.0 1142.8 L501.3 1149.3 L502.6 1149.7 L503.9 1153.2 L505.6 1155.7 L507.3 1161.8 L508.9 1162.2 L510.6 1167.9 L512.3 1168.5 L514.0 1174.7 L515.1 1174.0 L516.2 1179.5 L517.4 1181.1 L518.5 1187.3 L519.6 1188.9 L520.7 1192.5 L521.4 1193.1 L522.0 1201.0 L522.1 1194.8 L522.2 1195.1 L522.2 1190.0 L522.3 1186.4 L522.4 1182.4 L522.5 1182.8 L522.6 1175.6 L522.6 1175.7 L522.7 1168.9 L522.8 1168.9 L522.9 1163.7 L523.0 1162.7 L523.1 1155.1 L523.1 1152.6 L523.2 1150.9 L523.3 1149.2 L523.4 1144.2 L523.5 1142.4 L523.5 1137.5 L523.6 1137.6 L523.7 1130.2 L523.8 1131.3 L523.9 1124.3 L523.9 1124.5 L524.0 1119.1 L524.1 1116.7 L524.2 1113.9 L524.3 1111.5 L524.4 1104.2 L524.4 1100.5 L524.5 1098.5 L524.6 1098.1 L524.7 1091.4 L524.8 1091.4 L524.8 1085.0 L524.9 1085.9 L525.0 1078.2 L525.1 1079.0 L525.3 1071.8 L525.4 1069.6 L525.5 1064.4 L525.6 1065.6 L525.8 1057.9 L525.9 1058.9 L526.0 1052.0 L526.2 1053.3 L526.3 1045.2 L526.4 1045.9 L526.5 1040.5 L526.7 1038.7 L526.8 1032.8 L526.9 1032.5 L527.1 1028.6 L527.2 1027.6 L527.3 1024.6 L527.5 1020.2 L527.6 1014.3 L527.7 1014.4 L527.8 1006.6 L528.0 1007.0 L528.1 1001.0 L528.2 1000.0 L528.4 994.8 L528.5 994.6 L528.6 988.4 L528.7 988.2 L528.9 980.5 L529.0 978.9 L529.2 975.6 L529.5 970.9 L529.7 967.4 L530.0 968.8 L530.2 962.5 L530.4 957.6 L530.7 955.1 L530.9 954.3 L531.1 951.6 L531.4 949.3 L531.6 942.7 L531.9 942.1 L532.1 935.0 L532.3 934.4 L532.6 929.2 L532.8 929.2 L533.0 923.4 L533.3 921.6 L533.5 914.5 L533.8 915.3 L534.0 908.1 L534.8 908.3 L535.6 902.4 L536.3 901.5 L537.1 894.7 L537.9 896.1 L538.7 888.3 L539.4 888.1 L540.2 880.6 L541.0 880.8 L541.2 875.8 L541.5 874.3 L541.8 868.1 L542.0 867.7 L542.2 861.7 L542.5 858.1 L542.8 854.0 L543.0 855.4 L543.2 849.1 L543.5 846.6 L543.8 841.4 L544.0 841.8 L544.7 833.9 L545.4 833.6 L546.1 828.1 L546.9 827.8 L547.6 820.6 L548.3 821.0 L549.0 814.0 L550.2 813.9 L551.4 807.1 L552.6 801.4 L553.8 799.7 L555.0 798.0 L557.3 792.0 L559.7 792.5 L562.0 789.0 L566.0 791.3 L570.0 785.3 L574.0 788.2 L578.0 782.3 L581.5 783.6 L585.0 776.8 L586.8 784.3 L588.5 783.6 L590.2 791.3 L592.0 789.2 L594.0 798.0 L596.0 801.5 L598.0 803.2 L599.2 803.2 L600.5 811.8 L601.8 812.7 L603.0 817.6 L603.6 817.9 L604.1 826.6 L604.7 827.1 L605.3 833.3 L605.9 834.1 L606.4 836.5 L607.0 839.9 L607.4 847.7 L607.9 847.4 L608.3 852.7 L608.8 854.3 L609.2 859.9 L609.7 861.1 L610.1 866.0 L610.6 866.7 L611.0 869.2 L611.3 874.1 L611.5 880.2 L611.8 880.9 L612.1 886.5 L612.4 886.6 L612.6 895.5 L612.9 897.5 L613.2 900.4 L613.5 904.1 L613.7 907.4 L614.0 908.2 L614.2 914.4 L614.4 917.4 L614.6 920.7 L614.8 922.0 L615.0 927.5 L615.1 928.3 L615.3 934.3 L615.5 935.1 L615.7 940.7 L615.9 942.7 L616.1 948.9 L616.3 947.3 L616.5 954.8 L616.7 955.9 L616.9 957.4 L617.0 964.3 L617.2 964.2 L617.4 972.6 L617.6 975.2 L617.8 975.0 L618.0 980.4 L618.2 981.7 L618.3 988.3 L618.5 991.1 L618.6 995.0 L618.8 994.4 L619.0 1001.4 L619.1 1001.5 L619.3 1007.5 L619.4 1007.0 L619.6 1011.6 L619.8 1013.3 L619.9 1019.9 L620.1 1019.5 L620.2 1027.6 L620.4 1025.9 L620.6 1033.9 L620.7 1031.8 L620.9 1040.3 L621.0 1039.7 L621.2 1045.8 L621.4 1045.2 L621.5 1052.4 L621.7 1053.0 L621.8 1058.9 L622.0 1060.2 L622.1 1064.1 L622.3 1063.9 L622.4 1072.2 L622.6 1071.4 L622.7 1076.7 L622.9 1076.9 L623.0 1083.5 L623.1 1083.0 L623.3 1091.0 L623.4 1091.0 L623.6 1097.5 L623.7 1097.5 L623.9 1100.1 L624.0 1103.4 L624.1 1110.7 L624.3 1109.5 L624.4 1115.4 L624.6 1116.3 L624.7 1122.5 L624.9 1122.9 L625.0 1127.5 L625.1 1130.0 L625.3 1135.1 L625.4 1136.3 L625.6 1139.4 L625.7 1142.5 L625.9 1148.7 L626.0 1147.7 L626.1 1155.2 L626.3 1154.4 L626.4 1160.5 L626.5 1160.1 L626.7 1165.7 L626.8 1167.6 L626.9 1173.2 L627.1 1174.6 L627.2 1180.8 L627.3 1182.6 L627.5 1187.6 L627.6 1186.6 L627.7 1194.3 L627.9 1193.2 L628.0 1200.5 L628.8 1192.1 L629.6 1192.9 L630.4 1186.0 L631.3 1186.0 L632.1 1179.0 L632.9 1179.3 L633.7 1172.0 L635.6 1173.9 L637.4 1166.5 L639.3 1168.2 L641.1 1162.1 L643.0 1157.8 L645.2 1154.7 L647.5 1156.4 L649.8 1150.2 L652.0 1151.1 L653.4 1147.8 L654.8 1145.7 L656.1 1141.2 L657.5 1136.4 L658.9 1132.2 L660.3 1132.6 L661.7 1126.2 L663.0 1124.1 L664.4 1121.8 L665.8 1120.4 L667.1 1114.5 L668.3 1115.7 L669.6 1109.1 L670.9 1109.0 L672.1 1102.7 L673.4 1102.9 L674.7 1096.1 L675.9 1095.0 L677.2 1090.9 L679.5 1090.6 L681.8 1085.0 L684.1 1083.8 L685.6 1077.6 L687.2 1076.5 L688.7 1070.1 L689.7 1070.1 L690.7 1063.1 L691.8 1063.2 L692.8 1055.8 L693.8 1056.5 L694.8 1050.1 L695.9 1051.2 L696.9 1044.1 L697.9 1042.8 L699.7 1037.4 L701.5 1036.1 L703.4 1032.4 L705.2 1033.4 L707.0 1027.0 L709.3 1027.3 L711.6 1021.7 L713.9 1021.7 L716.2 1015.9 L717.6 1013.4 L719.0 1008.3 L720.3 1009.5 L721.7 1002.9 L723.1 1003.0 L724.5 997.1 L725.9 998.6 L727.2 994.2 L728.6 992.4 L730.0 984.7 L731.3 981.9 L732.6 978.5 L733.9 979.5 L735.1 972.7 L736.4 972.9 L737.7 967.6 L739.0 969.0 L741.4 963.3 L743.7 963.9 L745.5 966.8 L747.3 968.3 L749.2 969.5 L751.0 970.1 L752.8 973.8 L756.2 975.2 L759.7 970.9 L763.1 971.1 L766.6 966.7 L770.0 969.6 L773.3 966.7 L776.6 971.9 L780.0 967.2 L782.4 974.9 L784.8 972.7 L787.1 980.2 L789.5 982.3 L792.5 977.8 L795.6 974.5 L798.6 976.1 L800.1 971.9 L801.7 970.2 L803.2 965.3 L804.7 964.2 L806.3 958.0 L807.8 958.1 L809.2 951.3 L810.5 953.0 L811.9 945.6 L813.2 942.1 L814.6 940.1 L817.5 945.1 L820.3 943.4 L823.1 949.6 L826.0 949.5 L828.6 952.3 L831.2 953.1 L833.8 960.8 L836.4 958.8 L837.9 960.1 L839.4 954.3 L840.9 954.1 L842.4 946.8 L844.0 948.9 L845.5 941.5 L847.0 942.0 L848.5 937.1 L850.0 933.7 L853.3 932.2 L856.7 933.3 L860.0 927.6 L863.3 930.8 L866.7 926.0 L870.0 927.8 L873.3 923.1 L876.7 924.6 L880.0 919.9 L883.3 924.4 L886.7 918.4 L890.0 922.6 L893.0 917.8 L896.0 918.3 L899.0 915.3 L902.0 916.2 L905.0 912.3 L908.3 914.0 L911.7 911.2 L915.0 913.2 L918.3 908.6 L921.7 908.3 L925.0 910.3 L928.7 910.7 L932.4 905.9 L936.1 908.0 L939.8 904.4 L943.5 905.7 L947.8 900.5 L952.0 903.2 L955.2 899.6 L958.5 902.9 L961.7 900.6 L964.9 903.9 L968.3 899.6 L971.7 902.8 L975.2 903.9 L978.6 902.9 L982.0 899.7 L985.0 902.5 L988.0 901.3 L991.0 907.0 L994.0 904.7 L997.0 908.0 L1000.8 903.9 L1004.5 906.8 L1008.2 905.0 L1012.0 904.8 L1013.7 899.0 L1015.4 898.0 L1017.1 892.0 L1018.8 893.2 L1020.5 885.4 L1024.8 891.3 L1029.0 891.3 L1033.4 892.0" fill="none" stroke="#f2bddf" stroke-width="4.2" stroke-linejoin="round" opacity="1.0"/>
<path d="M114.4 891.0 L116.6 892.5 L118.8 899.9 L121.0 900.0 L122.9 898.8 L124.7 894.0 L126.6 892.5 L128.5 887.1 L130.3 885.9 L132.2 881.1 L133.8 887.8 L135.5 890.4 L137.2 893.4 L138.8 897.0 L141.8 899.2 L144.7 896.5 L147.7 901.4 L151.1 895.3 L154.4 894.0 L157.7 895.9 L161.1 896.5 L164.4 894.6 L167.7 899.6 L170.6 899.1 L173.6 903.7 L176.5 903.0 L180.9 905.1 L185.4 901.7 L189.9 904.8 L194.3 903.2 L197.8 905.3 L201.4 902.1 L204.9 904.1 L208.5 900.1 L212.0 901.7 L215.7 899.9 L219.4 903.6 L223.1 903.6 L226.1 906.5 L229.0 904.6 L232.0 911.2 L234.2 909.8 L236.4 916.5 L238.6 916.0 L241.6 921.1 L244.5 919.5 L247.5 924.0 L250.8 921.7 L254.2 925.0 L257.5 922.2 L260.8 925.7 L265.2 924.7 L269.7 929.0 L272.6 923.9 L275.6 925.3 L278.5 920.7 L281.5 922.8 L284.4 918.0 L287.4 920.1 L289.6 919.0 L291.9 924.3 L294.1 924.5 L296.3 930.0 L299.3 929.9 L302.2 933.5 L305.2 936.4 L307.0 941.8 L308.7 942.6 L310.5 948.2 L312.2 948.0 L314.0 953.6 L317.0 950.8 L319.9 951.8 L322.9 947.6 L325.9 951.7 L328.8 951.2 L331.8 954.0 L335.0 954.9 L338.2 957.8 L340.9 958.3 L343.6 964.8 L346.3 963.4 L349.0 969.1 L351.7 966.7 L354.4 971.8 L358.5 969.0 L362.5 967.2 L366.6 966.8 L368.6 966.4 L370.7 958.7 L372.7 959.4 L376.8 956.7 L380.8 962.6 L381.2 962.1 L381.7 965.6 L382.1 969.2 L382.6 974.2 L383.0 974.9 L383.5 981.3 L383.9 983.3 L384.4 987.8 L384.8 988.2 L388.9 990.9 L392.9 986.6 L397.0 988.4 L398.3 981.9 L399.7 981.7 L401.0 977.1 L405.0 980.3 L409.0 978.7 L410.6 983.8 L412.1 983.9 L413.6 992.1 L415.2 993.0 L416.4 997.9 L417.6 998.9 L418.9 1005.4 L420.1 1005.5 L421.3 1011.1 L423.3 1011.3 L425.3 1018.5 L427.3 1019.0 L431.4 1021.9 L435.4 1021.8 L438.1 1026.0 L440.8 1023.8 L443.5 1029.2 L444.4 1028.6 L445.3 1032.3 L446.2 1035.5 L447.1 1041.9 L448.0 1042.4 L448.9 1048.4 L449.8 1048.3 L450.7 1054.4 L451.6 1055.0 L452.8 1059.8 L454.0 1060.8 L455.2 1066.4 L457.3 1066.2 L459.4 1073.5 L461.5 1076.2 L463.6 1080.4 L465.3 1080.9 L467.0 1087.3 L468.6 1088.1 L470.3 1093.8 L472.0 1093.3 L473.7 1098.2 L475.4 1102.1 L477.0 1106.9 L478.7 1108.6 L479.9 1111.3 L481.1 1113.0 L482.2 1119.7 L483.4 1120.2 L484.6 1127.0 L485.8 1125.6 L487.0 1132.6 L488.1 1132.4 L489.3 1138.5 L490.5 1139.7 L492.6 1145.7 L494.6 1143.4 L496.7 1149.2 L498.8 1148.7 L499.6 1154.7 L500.3 1155.9 L501.1 1161.2 L501.8 1161.6 L502.6 1167.7 L503.3 1167.6 L504.1 1175.0 L504.8 1174.1 L505.6 1177.7 L508.4 1180.5 L511.2 1186.5 L514.0 1187.0 L514.8 1192.5 L515.7 1193.5 L516.5 1199.5 L517.3 1198.9 L518.2 1206.5 L519.0 1206.1 L522.0 1214.2 L522.1 1207.6 L522.1 1204.2 L522.2 1201.7 L522.2 1199.9 L522.3 1194.3 L522.3 1194.7 L522.4 1188.4 L522.5 1186.9 L522.5 1181.1 L522.6 1182.1 L522.6 1176.5 L522.7 1174.4 L522.7 1168.9 L522.8 1168.0 L522.9 1161.6 L522.9 1162.8 L523.0 1156.9 L523.0 1156.0 L523.1 1148.8 L523.1 1149.7 L523.2 1143.3 L523.3 1143.7 L523.3 1137.1 L523.4 1137.3 L523.4 1130.6 L523.5 1130.4 L523.5 1123.4 L523.6 1124.0 L523.7 1117.8 L523.7 1118.0 L523.8 1110.8 L523.8 1109.9 L523.9 1105.5 L523.9 1104.6 L524.0 1097.7 L524.1 1098.0 L524.2 1092.1 L524.3 1088.6 L524.4 1085.7 L524.5 1084.5 L524.6 1078.5 L524.7 1079.0 L524.8 1073.6 L524.9 1072.4 L525.0 1066.0 L525.1 1066.8 L525.2 1058.9 L525.3 1060.5 L525.4 1053.4 L525.5 1051.7 L525.5 1047.8 L525.6 1046.9 L525.7 1041.2 L525.8 1041.1 L525.9 1035.3 L526.0 1034.4 L526.1 1027.1 L526.2 1028.2 L526.3 1020.5 L526.4 1019.9 L526.5 1015.0 L526.6 1015.3 L526.7 1008.2 L526.8 1007.4 L526.9 1002.5 L527.0 1000.6 L527.2 995.8 L527.4 993.9 L527.7 988.3 L527.9 988.9 L528.1 980.8 L528.3 981.8 L528.6 975.8 L528.8 974.3 L529.0 967.9 L529.2 968.3 L529.4 961.4 L529.7 960.8 L529.9 955.7 L530.1 954.7 L530.3 949.3 L530.6 947.6 L530.8 941.2 L531.0 941.9 L531.5 935.6 L532.0 934.7 L532.4 930.2 L532.9 928.3 L533.4 921.4 L533.9 920.7 L534.3 914.8 L534.8 914.7 L535.3 908.4 L535.6 903.8 L535.9 900.8 L536.3 901.6 L536.6 894.5 L536.9 892.7 L537.2 888.2 L537.6 888.9 L537.9 881.2 L538.2 882.3 L538.7 874.5 L539.2 873.9 L539.8 868.4 L540.3 867.5 L540.8 861.7 L541.3 862.4 L541.8 855.8 L542.4 854.8 L542.9 848.9 L543.5 848.4 L544.0 840.5 L544.6 839.4 L545.1 834.3 L545.7 833.5 L546.4 827.8 L547.0 822.5 L547.6 820.2 L548.2 819.9 L548.9 813.1 L549.5 809.2 L550.1 805.4 L551.1 806.5 L552.2 799.5 L553.2 800.4 L554.3 794.2 L555.4 794.4 L556.4 787.9 L558.5 788.2 L560.6 784.6 L562.7 780.5 L567.7 779.1 L570.8 784.3 L573.9 781.8 L575.8 780.1 L577.7 774.7 L581.5 779.2 L584.6 773.7 L587.7 774.7 L588.7 773.7 L589.6 780.3 L590.5 782.0 L591.5 788.1 L596.5 789.2 L597.8 794.6 L599.0 795.2 L600.3 802.7 L601.5 803.9 L602.8 809.8 L604.0 810.8 L604.5 816.6 L605.1 816.9 L605.6 824.5 L606.2 823.8 L606.7 830.4 L607.3 830.5 L607.8 833.2 L608.3 836.5 L608.9 843.9 L609.4 844.0 L609.9 850.3 L610.4 852.6 L611.0 858.3 L611.5 858.7 L611.7 863.4 L611.9 865.7 L612.1 871.3 L612.3 875.9 L612.5 877.9 L612.8 877.9 L613.0 884.3 L613.2 886.1 L613.4 891.0 L613.6 891.0 L613.8 897.8 L614.0 899.4 L614.2 905.0 L614.3 905.5 L614.5 910.5 L614.7 912.5 L614.8 917.3 L615.0 917.6 L615.2 924.2 L615.3 924.6 L615.5 932.3 L615.7 931.8 L615.8 937.3 L616.0 938.3 L616.2 945.4 L616.3 945.6 L616.5 950.4 L616.7 951.0 L616.8 958.4 L617.0 957.8 L617.1 964.7 L617.3 964.6 L617.4 970.5 L617.6 973.5 L617.7 977.8 L617.9 979.2 L618.0 983.6 L618.1 985.7 L618.3 992.1 L618.4 994.6 L618.6 998.0 L618.7 999.4 L618.9 1003.9 L619.0 1005.2 L619.1 1012.3 L619.3 1012.2 L619.4 1018.7 L619.6 1018.7 L619.7 1024.4 L619.9 1024.6 L620.0 1031.6 L620.1 1031.9 L620.3 1034.2 L620.4 1037.7 L620.6 1043.4 L620.7 1045.6 L620.9 1051.7 L621.0 1051.5 L621.1 1057.9 L621.3 1062.1 L621.4 1065.4 L621.6 1066.8 L621.7 1070.7 L621.9 1072.2 L622.0 1077.3 L622.1 1078.9 L622.3 1085.1 L622.4 1085.7 L622.6 1091.2 L622.7 1092.5 L622.9 1099.0 L623.0 1097.7 L623.2 1105.7 L623.3 1105.7 L623.5 1111.7 L623.7 1111.5 L623.8 1114.7 L624.0 1118.1 L624.2 1122.1 L624.3 1124.3 L624.5 1131.2 L624.7 1132.5 L624.8 1137.9 L625.0 1138.7 L625.2 1144.2 L625.3 1144.2 L625.5 1148.2 L625.7 1152.5 L625.8 1159.2 L626.0 1159.3 L626.4 1165.2 L626.8 1164.6 L627.2 1171.7 L627.6 1172.3 L628.0 1179.0 L628.4 1180.0 L628.8 1187.0 L629.2 1186.1 L630.0 1185.5 L630.9 1179.7 L631.7 1179.1 L632.5 1172.7 L633.3 1172.9 L634.2 1166.1 L635.0 1166.6 L635.8 1159.4 L636.6 1159.4 L637.5 1153.3 L638.3 1153.3 L639.8 1147.8 L641.4 1146.4 L642.9 1141.0 L644.4 1139.8 L646.0 1134.8 L647.5 1135.0 L649.3 1130.1 L651.1 1129.5 L653.0 1123.3 L654.8 1123.4 L656.6 1118.4 L657.4 1118.7 L658.3 1111.9 L659.1 1112.1 L659.9 1104.8 L660.8 1105.3 L661.6 1097.4 L662.5 1098.1 L663.3 1090.7 L664.1 1090.4 L665.0 1086.3 L665.8 1084.6 L666.8 1079.6 L667.8 1078.0 L668.9 1071.5 L669.9 1070.0 L670.9 1067.2 L671.9 1065.7 L673.0 1059.5 L674.0 1061.0 L675.0 1054.8 L677.9 1055.3 L680.7 1049.6 L683.5 1050.4 L686.4 1045.2 L687.3 1043.6 L688.2 1037.1 L689.2 1037.4 L690.1 1029.6 L691.0 1030.3 L693.3 1022.5 L695.6 1019.0 L696.7 1017.0 L697.9 1016.7 L699.0 1009.2 L700.1 1008.6 L703.0 1006.1 L705.9 1005.5 L708.7 999.2 L711.6 1000.1 L713.0 992.9 L714.4 993.1 L715.7 986.4 L717.1 983.4 L718.5 980.4 L722.3 983.4 L726.2 980.9 L730.0 980.6 L732.2 977.5 L734.5 978.1 L737.1 977.2 L739.8 980.1 L742.4 980.3 L745.0 986.2 L747.5 986.4 L750.0 991.6 L752.6 992.9 L755.1 997.7 L756.1 991.0 L757.1 990.6 L758.2 985.2 L759.2 984.7 L760.2 978.0 L761.2 978.7 L762.3 970.6 L763.3 970.9 L764.3 964.5 L767.6 969.1 L771.0 967.0 L772.5 966.6 L774.1 961.9 L775.6 960.6 L777.2 954.7 L778.8 955.4 L780.3 948.2 L782.6 948.8 L784.9 944.2 L787.2 945.1 L789.5 938.9 L791.6 944.8 L793.7 944.6 L795.8 947.5 L797.9 949.8 L800.0 953.9 L803.6 954.4 L807.3 955.8 L811.0 954.2 L814.6 956.2 L817.9 951.3 L821.2 954.9 L824.5 950.3 L827.8 952.1 L829.6 946.4 L831.5 943.4 L833.3 939.4 L835.2 937.3 L837.0 935.1 L838.9 935.8 L840.7 928.6 L843.6 932.6 L846.4 932.8 L849.3 939.3 L850.7 933.6 L852.1 931.4 L853.5 926.3 L855.0 925.7 L856.4 919.1 L857.8 919.6 L859.4 918.9 L861.1 926.9 L862.7 925.9 L864.4 933.7 L866.0 933.3 L868.6 933.7 L871.3 929.9 L873.9 929.2 L876.6 925.1 L879.2 926.0 L883.5 923.1 L887.8 927.3 L890.2 927.5 L892.6 934.4 L895.0 933.2 L898.3 934.4 L901.7 930.7 L905.0 932.2 L907.1 927.1 L909.2 926.2 L911.4 920.6 L913.5 921.3 L915.6 917.2 L918.6 917.5 L921.6 913.6 L924.6 914.8 L927.6 910.7 L930.6 910.7 L934.2 907.0 L937.7 908.8 L941.3 902.9 L943.4 908.5 L945.6 908.3 L947.7 915.2 L950.9 911.7 L954.2 914.4 L957.4 910.6 L960.6 913.6 L963.2 912.4 L965.7 917.1 L968.3 917.2 L970.8 921.0 L973.4 922.5 L977.0 922.3 L980.5 918.4 L984.1 918.3 L985.8 913.4 L987.5 909.2 L989.3 907.0 L991.0 906.0 L992.7 899.2 L994.0 905.1 L995.3 905.5 L996.5 912.6 L997.8 912.0 L999.1 918.4 L1002.3 920.7 L1005.5 924.1 L1008.2 920.6 L1010.9 918.9 L1013.5 913.5 L1016.2 912.9 L1019.8 911.7 L1023.4 916.9 L1027.0 916.2 L1030.2 916.3 L1033.4 911.4" fill="none" stroke="#d2409e" stroke-width="4.2" stroke-linejoin="round" opacity="1.0"/>
<path d="M114.4 886.6 L118.8 883.6 L123.3 886.8 L124.4 886.7 L125.5 892.9 L126.7 892.5 L127.8 899.8 L128.9 900.1 L130.0 903.7 L132.9 900.1 L135.9 900.7 L138.8 895.9 L140.5 902.8 L142.2 903.2 L143.8 908.6 L145.5 910.5 L147.7 908.0 L149.9 903.4 L152.2 903.7 L154.4 898.6 L156.6 898.4 L157.9 900.9 L159.2 905.3 L160.6 904.9 L161.9 910.8 L163.2 911.1 L165.4 910.8 L167.7 906.6 L169.9 905.1 L171.4 905.8 L172.9 912.4 L174.4 913.0 L175.8 918.4 L177.3 920.0 L178.8 926.5 L180.1 920.4 L181.4 919.7 L182.8 913.1 L184.1 911.5 L185.4 907.2 L188.4 909.1 L191.3 910.9 L194.3 914.6 L197.2 909.0 L200.2 908.5 L203.1 904.8 L207.6 902.4 L209.1 902.3 L210.6 907.4 L212.1 909.0 L213.5 912.1 L215.0 914.9 L216.5 918.9 L220.9 918.7 L225.3 921.6 L226.7 924.2 L228.1 928.2 L229.5 927.8 L230.9 932.3 L232.2 934.0 L233.6 938.8 L235.0 938.9 L236.4 945.5 L237.4 940.4 L238.4 939.8 L239.4 933.6 L240.4 933.0 L241.3 926.2 L242.3 926.3 L243.3 921.1 L244.3 919.4 L245.3 914.6 L246.5 919.3 L247.8 919.5 L249.0 926.6 L250.2 925.6 L251.5 931.5 L252.7 931.7 L253.9 937.9 L255.2 937.2 L256.4 942.2 L259.2 937.6 L261.9 940.1 L264.7 937.0 L267.5 931.0 L270.8 933.6 L274.1 937.4 L277.4 937.1 L280.8 941.1 L284.1 939.0 L287.4 944.4 L290.2 941.8 L292.9 945.9 L295.7 945.7 L298.5 950.8 L300.7 953.1 L302.9 955.3 L305.1 954.1 L307.4 959.8 L309.6 963.1 L311.8 966.6 L314.6 960.4 L317.4 963.2 L320.1 957.9 L322.9 959.7 L325.2 953.0 L327.4 951.8 L329.7 948.9 L332.0 946.7 L336.0 946.3 L340.0 949.8 L342.1 945.3 L344.2 942.5 L346.3 939.0 L348.4 939.3 L350.4 934.3 L352.4 935.7 L354.4 936.0 L356.4 942.0 L358.5 942.7 L360.5 948.7 L364.6 944.1 L368.6 946.8 L370.0 946.7 L371.3 950.7 L372.7 953.2 L374.7 960.2 L376.8 958.7 L378.8 964.8 L380.8 965.1 L382.8 971.3 L384.9 969.7 L386.9 976.7 L388.9 975.7 L392.9 977.0 L397.0 972.9 L403.0 974.3 L405.0 974.7 L407.0 981.1 L409.0 983.6 L411.0 988.0 L413.0 988.0 L415.0 992.0 L417.0 991.8 L418.7 998.7 L420.3 997.7 L422.0 1004.4 L423.6 1005.6 L425.3 1011.0 L429.4 1008.6 L433.4 1013.7 L435.4 1006.9 L437.5 1005.8 L439.5 999.5 L440.7 1006.3 L441.9 1005.8 L443.2 1013.4 L444.4 1012.5 L445.6 1019.3 L446.8 1018.6 L447.9 1025.5 L449.1 1026.0 L450.2 1032.3 L451.4 1032.9 L452.5 1036.0 L453.7 1038.6 L455.3 1044.6 L456.9 1045.9 L458.6 1050.2 L460.2 1051.7 L461.8 1056.9 L465.9 1052.1 L469.9 1054.2 L470.7 1054.6 L471.5 1058.4 L472.3 1059.9 L473.1 1067.8 L473.8 1066.3 L474.6 1074.4 L475.4 1073.5 L476.2 1079.7 L477.0 1081.2 L479.1 1083.0 L481.2 1086.1 L483.3 1091.7 L485.4 1092.7 L487.1 1098.7 L488.8 1098.7 L490.4 1103.1 L492.1 1103.4 L493.8 1111.0 L494.9 1109.5 L496.0 1114.6 L497.1 1115.7 L498.3 1122.1 L499.4 1122.0 L500.5 1129.2 L502.2 1127.9 L503.9 1135.5 L505.5 1134.0 L507.2 1140.1 L508.9 1141.8 L511.4 1144.1 L514.0 1146.4 L515.2 1152.4 L516.5 1151.8 L517.8 1158.5 L519.0 1160.6 L519.8 1166.8 L520.6 1166.7 L521.5 1172.4 L522.3 1173.9 L522.3 1173.2 L522.3 1166.2 L522.4 1167.2 L522.4 1163.6 L522.4 1159.4 L522.4 1152.4 L522.4 1153.2 L522.5 1146.6 L522.5 1146.4 L522.5 1139.5 L522.5 1139.8 L522.5 1135.0 L522.6 1133.2 L522.6 1126.1 L522.6 1125.7 L522.8 1118.5 L522.9 1118.1 L523.1 1111.9 L523.2 1112.2 L523.4 1106.9 L523.5 1102.6 L523.7 1098.9 L523.8 1099.1 L524.0 1092.7 L524.1 1093.3 L524.3 1089.1 L524.4 1082.8 L524.6 1081.5 L524.8 1076.4 L524.9 1074.2 L525.1 1072.8 L525.2 1068.4 L525.4 1066.4 L525.5 1060.5 L525.7 1060.5 L525.8 1053.7 L526.0 1055.3 L526.1 1047.4 L526.3 1048.5 L526.4 1041.2 L526.6 1041.0 L527.0 1036.1 L527.4 1034.5 L527.8 1027.9 L528.1 1027.8 L528.5 1025.5 L528.9 1021.6 L529.3 1015.5 L529.7 1013.4 L530.1 1007.6 L530.5 1007.3 L530.9 1001.3 L531.2 1001.3 L531.6 995.4 L532.0 994.1 L532.4 989.3 L532.9 986.9 L533.3 981.3 L533.8 982.5 L534.2 975.2 L534.7 975.5 L535.1 973.0 L535.6 969.7 L536.0 961.6 L536.5 961.4 L537.0 955.2 L537.4 955.4 L537.9 948.9 L538.3 948.7 L538.8 943.1 L539.2 942.7 L539.7 936.0 L540.3 935.9 L541.0 930.0 L541.6 930.0 L542.3 926.0 L542.9 923.3 L543.6 917.2 L544.2 915.9 L544.9 909.9 L545.5 910.1 L546.1 905.0 L546.8 904.3 L547.4 898.5 L548.1 897.6 L548.7 891.4 L549.4 891.2 L550.0 885.1 L550.7 881.2 L551.3 878.5 L552.0 877.8 L552.8 871.6 L553.5 871.0 L554.2 867.8 L554.9 861.1 L555.7 858.1 L556.4 856.7 L557.6 850.5 L558.9 848.2 L560.1 844.1 L561.4 842.4 L563.1 837.3 L564.7 837.3 L566.4 830.3 L567.6 830.4 L568.9 824.5 L570.1 823.8 L571.4 815.8 L575.2 819.9 L576.5 819.1 L577.7 822.6 L579.0 826.7 L582.1 831.9 L585.2 831.8 L586.8 837.3 L588.4 839.9 L589.9 844.4 L591.5 845.8 L592.3 852.0 L593.2 852.1 L594.0 857.9 L594.8 859.2 L595.7 865.6 L596.5 866.7 L597.5 872.5 L598.5 872.4 L599.5 879.2 L600.5 880.2 L601.5 885.9 L602.1 888.5 L602.8 893.6 L603.4 893.9 L604.0 902.4 L604.3 902.7 L604.5 908.2 L604.8 909.2 L605.1 914.4 L605.3 918.2 L605.6 920.6 L605.9 922.8 L606.1 927.2 L606.4 929.4 L606.7 933.2 L606.9 935.9 L607.2 940.7 L607.5 941.0 L607.7 944.5 L608.0 947.8 L608.3 955.4 L608.5 955.1 L608.8 961.4 L609.1 960.9 L609.3 965.6 L609.6 969.2 L609.9 975.3 L610.1 975.3 L610.4 979.6 L610.7 982.5 L610.9 988.7 L611.2 987.6 L611.5 994.0 L611.7 999.1 L612.0 1001.6 L612.3 1002.6 L612.7 1008.9 L613.0 1009.1 L613.3 1014.4 L613.7 1015.2 L614.0 1020.6 L614.3 1022.6 L614.7 1028.9 L615.0 1028.6 L615.3 1033.3 L615.7 1034.3 L616.0 1038.7 L616.3 1041.0 L616.7 1045.9 L617.0 1047.6 L617.3 1054.6 L617.7 1054.6 L618.0 1060.6 L618.3 1062.6 L618.7 1066.7 L619.0 1068.9 L619.3 1074.7 L619.7 1074.9 L620.0 1081.9 L620.3 1084.6 L620.7 1088.1 L621.0 1087.9 L621.3 1091.4 L621.7 1096.2 L622.0 1097.6 L622.2 1101.5 L622.5 1108.9 L622.8 1109.1 L623.0 1113.6 L623.2 1114.6 L623.5 1120.6 L623.8 1120.8 L624.0 1127.4 L624.2 1126.7 L624.5 1130.0 L624.8 1134.3 L625.0 1138.8 L628.3 1138.7 L631.5 1143.7 L634.8 1142.3 L637.5 1144.2 L640.2 1138.7 L642.9 1140.2 L644.4 1132.9 L645.9 1133.7 L647.5 1127.4 L649.0 1126.7 L650.5 1121.8 L652.0 1121.3 L653.5 1117.5 L655.1 1115.5 L656.6 1109.8 L658.1 1109.9 L659.7 1103.1 L661.2 1101.6 L662.4 1096.5 L663.5 1096.3 L664.7 1090.9 L665.8 1090.3 L667.0 1083.8 L668.1 1084.7 L668.7 1078.2 L669.2 1077.9 L669.8 1072.2 L670.4 1071.5 L671.0 1065.7 L671.6 1065.1 L672.1 1058.7 L672.7 1060.1 L676.5 1056.7 L680.3 1059.4 L684.1 1056.1 L688.7 1058.4 L689.7 1055.4 L690.7 1055.7 L691.7 1048.7 L692.6 1048.3 L693.6 1042.3 L694.6 1042.1 L695.6 1034.9 L697.9 1037.4 L700.2 1031.3 L702.4 1031.4 L704.7 1025.9 L705.9 1026.9 L707.0 1023.0 L708.2 1019.2 L709.3 1013.3 L710.5 1011.9 L711.6 1005.4 L716.2 1007.6 L720.8 1004.6 L724.4 1006.4 L728.0 1009.1 L729.6 1007.8 L731.2 1002.9 L732.9 1002.3 L734.5 996.1 L736.8 996.8 L739.1 992.7 L741.4 989.3 L743.7 987.7 L747.1 992.5 L750.5 992.6 L751.3 989.1 L752.0 986.3 L752.8 986.0 L753.6 981.4 L754.3 978.6 L755.1 972.4 L758.5 976.6 L762.0 976.4 L762.9 982.3 L763.8 982.2 L764.8 989.1 L765.7 988.9 L766.6 994.8 L768.4 991.3 L770.2 986.3 L772.1 982.2 L773.9 982.1 L775.7 977.0 L778.0 977.5 L780.3 970.9 L782.6 971.7 L784.9 964.8 L787.9 966.8 L791.0 965.4 L794.0 963.2 L797.1 961.1 L800.1 956.7 L803.2 955.1 L805.5 960.8 L807.7 960.9 L810.0 967.6 L811.5 967.6 L813.1 974.6 L814.6 975.3 L816.2 980.9 L817.8 981.6 L819.3 987.7 L820.1 981.3 L821.0 979.0 L821.8 974.2 L822.7 974.4 L823.5 967.8 L824.4 968.8 L825.2 963.1 L826.1 962.4 L826.9 955.5 L827.8 955.3 L832.1 951.2 L836.4 953.0 L839.1 947.8 L841.8 948.5 L844.4 942.7 L847.1 943.3 L850.1 937.7 L853.0 938.0 L856.0 934.1 L858.6 935.2 L861.2 929.9 L863.8 930.9 L866.4 924.3 L867.5 929.4 L868.5 931.9 L869.6 939.5 L870.7 940.4 L872.8 940.9 L875.0 934.6 L877.1 934.3 L879.3 930.5 L881.4 929.2 L884.6 924.0 L887.8 925.7 L891.0 921.6 L894.2 920.0 L895.3 923.8 L896.4 928.4 L897.4 928.7 L898.5 935.3 L899.6 934.7 L900.6 940.8 L901.7 941.8 L902.8 947.5 L904.9 940.8 L907.1 941.1 L909.2 935.5 L911.4 934.3 L913.5 929.3 L917.1 929.7 L920.6 931.1 L924.2 936.9 L926.9 934.4 L929.5 932.1 L932.2 927.0 L934.9 928.8 L938.1 923.4 L941.3 926.0 L944.5 920.9 L947.7 922.1 L950.9 922.4 L954.2 928.7 L957.4 927.9 L960.6 931.3 L962.7 926.5 L964.9 925.8 L967.0 919.7 L969.2 920.1 L971.3 914.4 L974.9 918.7 L978.4 917.6 L982.0 922.4 L985.8 917.7 L989.5 919.5 L993.2 916.3 L997.0 919.7 L1000.2 914.3 L1003.4 915.3 L1006.6 910.1 L1009.8 910.2 L1011.9 904.6 L1014.1 906.1 L1016.2 900.3 L1018.4 899.9 L1020.5 894.6 L1023.3 900.8 L1026.2 901.6 L1029.0 907.1 L1033.4 909.2" fill="none" stroke="#58b444" stroke-width="4.3" stroke-linejoin="round" opacity="1.0"/>
<path d="M114.4 878.9 L117.2 878.8 L120.0 880.1 L122.7 879.9 L125.5 881.2 L127.7 883.0 L129.9 884.1 L132.2 884.9 L134.4 886.8 L137.1 887.3 L139.7 887.3 L142.4 887.3 L145.0 887.8 L147.7 887.5 L150.5 888.8 L153.2 888.8 L156.0 890.5 L158.8 891.6 L161.8 892.0 L164.7 891.6 L167.7 892.8 L171.0 889.8 L174.3 888.8 L177.3 888.1 L180.2 888.8 L183.2 888.3 L186.0 890.0 L188.8 890.3 L191.5 891.2 L194.3 891.9 L197.1 892.5 L199.9 893.1 L202.6 894.0 L205.4 894.8 L207.6 896.3 L209.8 897.5 L212.0 900.0 L215.0 897.9 L217.9 897.4 L220.9 895.1 L223.9 895.9 L226.8 895.0 L229.8 896.0 L232.6 895.7 L235.3 897.0 L238.1 896.9 L240.8 897.8 L243.6 897.8 L246.4 899.1 L249.2 899.0 L252.0 900.3 L254.6 900.6 L257.3 900.9 L259.9 900.2 L262.6 901.1 L265.2 900.8 L268.2 901.2 L271.1 899.7 L274.1 900.2 L276.9 901.2 L279.6 903.5 L282.4 904.7 L285.2 906.9 L288.2 907.2 L291.1 909.1 L294.1 909.6 L296.9 910.8 L299.6 910.7 L302.4 912.1 L305.2 911.6 L308.0 913.1 L310.8 912.8 L313.5 913.9 L316.3 913.9 L319.2 915.0 L322.2 914.6 L325.1 915.6 L328.1 914.1 L330.8 916.6 L333.5 917.5 L336.2 920.1 L338.7 921.2 L341.2 923.7 L343.8 925.0 L346.3 928.2 L349.0 927.4 L351.7 928.7 L354.4 928.2 L357.4 929.3 L360.5 928.6 L363.6 929.5 L366.6 929.1 L369.1 931.4 L371.6 932.5 L374.2 934.5 L376.7 935.4 L379.5 937.3 L382.4 937.8 L385.2 939.9 L388.1 940.0 L390.9 942.1 L393.2 942.9 L395.6 945.4 L397.9 946.0 L400.3 948.2 L402.6 948.9 L405.0 951.4 L407.0 952.3 L409.1 954.7 L411.1 956.3 L413.2 958.8 L415.2 959.6 L417.2 962.2 L419.2 963.7 L421.3 966.5 L423.3 967.8 L425.3 970.0 L428.0 970.2 L430.7 971.0 L433.4 972.3 L435.0 974.7 L436.6 976.2 L438.3 979.1 L439.9 980.5 L441.5 983.5 L443.2 985.4 L444.9 988.4 L446.6 990.6 L448.2 993.2 L449.9 994.6 L451.6 997.8 L453.1 999.5 L454.5 1002.0 L456.0 1004.3 L457.4 1007.0 L458.9 1008.8 L460.3 1011.5 L461.8 1013.2 L463.5 1016.0 L465.2 1017.4 L466.9 1020.0 L468.5 1022.3 L470.2 1024.2 L471.9 1025.2 L472.9 1029.0 L473.9 1031.0 L475.0 1034.7 L476.0 1036.6 L477.0 1040.2 L478.4 1041.9 L479.8 1044.9 L481.2 1046.4 L482.6 1049.4 L484.0 1051.0 L485.4 1053.9 L486.6 1056.5 L487.8 1059.0 L489.0 1060.8 L490.2 1064.2 L491.4 1066.5 L492.6 1069.7 L493.8 1071.7 L495.0 1074.6 L496.2 1076.2 L497.4 1079.4 L498.6 1082.0 L499.8 1083.4 L501.0 1086.1 L502.2 1089.2 L503.6 1090.5 L505.0 1093.5 L506.4 1095.2 L507.8 1098.2 L509.2 1100.4 L510.6 1102.3 L512.3 1104.4 L514.0 1107.4 L515.6 1110.1 L517.3 1112.8 L519.8 1114.6 L522.3 1118.3 L522.3 1114.8 L522.4 1113.0 L522.4 1109.7 L522.4 1107.8 L522.5 1104.1 L522.5 1102.5 L522.5 1098.9 L522.6 1097.2 L522.6 1093.5 L522.6 1091.5 L522.7 1088.3 L522.7 1086.2 L522.7 1082.9 L522.8 1081.1 L522.8 1077.5 L522.8 1075.8 L522.9 1072.5 L522.9 1070.2 L522.9 1067.2 L523.0 1065.1 L523.0 1061.4 L523.0 1059.7 L523.1 1056.4 L523.1 1054.3 L523.2 1050.8 L523.3 1049.2 L523.4 1045.9 L523.5 1044.0 L523.6 1040.6 L523.7 1038.8 L523.8 1035.4 L523.9 1033.0 L524.0 1029.8 L524.1 1028.1 L524.2 1024.5 L524.2 1022.8 L524.3 1019.2 L524.4 1017.1 L524.5 1014.1 L524.6 1012.2 L524.7 1008.6 L524.8 1006.9 L524.9 1004.3 L525.0 1001.6 L525.1 998.4 L525.2 996.5 L525.3 993.1 L525.5 990.9 L525.6 987.7 L525.7 985.8 L525.8 982.5 L526.0 979.8 L526.1 977.1 L526.2 974.8 L526.3 972.0 L526.5 970.2 L526.6 966.5 L526.7 964.6 L526.9 961.2 L527.0 958.9 L527.1 956.0 L527.2 954.4 L527.4 950.7 L527.5 949.1 L527.6 946.2 L527.7 942.8 L527.9 940.8 L528.0 937.6 L528.2 934.7 L528.4 932.7 L528.6 929.3 L528.8 927.4 L528.9 924.7 L529.1 922.2 L529.3 918.8 L529.5 916.5 L529.7 913.9 L529.9 911.4 L530.1 908.0 L530.2 906.0 L530.4 902.2 L530.6 900.1 L530.8 896.8 L531.0 895.0 L531.3 891.5 L531.6 888.9 L531.9 886.2 L532.3 884.4 L532.6 881.1 L532.9 879.3 L533.2 875.6 L533.5 874.0 L533.8 870.2 L534.2 868.6 L534.5 865.2 L534.8 863.4 L535.1 860.1 L535.6 857.8 L536.1 854.5 L536.6 852.6 L537.1 849.0 L537.6 846.3 L538.1 843.4 L538.6 841.3 L539.1 838.0 L539.6 835.7 L540.1 832.5 L541.1 830.1 L542.2 826.9 L543.2 824.7 L544.3 821.5 L545.4 818.7 L546.4 815.9 L548.9 814.9 L551.4 812.6 L553.5 810.4 L555.5 807.2 L557.6 805.3 L560.1 804.1 L562.7 804.0 L565.2 802.2 L567.7 801.8 L570.2 799.8 L574.0 800.7 L577.7 799.6 L581.5 799.4 L583.4 801.1 L585.2 803.1 L587.7 804.0 L590.2 806.3 L592.7 807.1 L594.8 810.1 L596.9 811.3 L599.0 814.1 L600.6 815.8 L602.1 819.2 L603.7 820.8 L605.3 824.4 L606.0 826.8 L606.7 829.1 L607.4 831.1 L608.2 834.4 L608.9 836.2 L609.6 838.7 L610.3 841.0 L610.7 844.7 L611.1 846.7 L611.5 850.4 L611.9 853.1 L612.4 855.6 L612.8 858.0 L613.2 861.4 L613.6 864.0 L614.0 866.4 L614.3 868.9 L614.6 872.2 L615.0 874.5 L615.3 878.0 L615.6 880.0 L615.9 883.5 L616.2 885.7 L616.5 889.0 L616.8 891.3 L617.2 895.0 L617.5 896.8 L617.8 900.2 L617.9 902.3 L618.0 905.1 L618.1 908.3 L618.2 911.2 L618.3 913.2 L618.4 916.4 L618.5 918.5 L618.6 921.8 L618.7 924.0 L618.8 926.9 L618.9 929.0 L619.0 931.6 L619.1 934.2 L619.2 937.9 L619.4 939.5 L619.5 942.8 L619.6 945.0 L619.7 948.5 L619.8 950.5 L619.9 953.8 L620.0 955.7 L620.1 958.9 L620.2 961.0 L620.3 964.2 L620.4 967.3 L620.5 969.9 L620.6 971.7 L620.7 974.9 L620.8 977.0 L621.0 980.4 L621.1 982.3 L621.2 985.7 L621.4 987.7 L621.5 990.9 L621.6 993.0 L621.8 996.2 L621.9 998.9 L622.0 1001.4 L622.2 1003.5 L622.3 1006.9 L622.4 1008.5 L622.6 1012.2 L622.7 1014.1 L622.9 1017.4 L623.0 1019.3 L623.1 1022.9 L623.3 1024.7 L623.4 1027.4 L623.5 1030.0 L623.7 1033.0 L623.8 1035.0 L623.9 1038.6 L624.1 1040.5 L624.2 1043.9 L624.3 1046.6 L624.5 1049.2 L624.6 1050.9 L624.7 1054.3 L624.9 1056.2 L625.0 1059.8 L625.1 1061.8 L625.1 1064.8 L625.2 1066.8 L625.3 1070.3 L625.4 1072.5 L625.4 1075.8 L625.5 1077.9 L625.6 1080.5 L625.6 1082.9 L625.7 1085.6 L625.8 1088.4 L625.8 1091.8 L625.9 1093.9 L626.0 1097.3 L626.0 1099.3 L626.1 1102.8 L626.2 1104.6 L626.3 1107.8 L626.3 1109.8 L626.4 1113.2 L628.8 1110.1 L631.3 1108.5 L633.7 1105.8 L635.2 1104.0 L636.8 1101.3 L638.3 1098.7 L639.8 1096.7 L641.4 1095.1 L642.9 1092.0 L644.3 1090.4 L645.7 1087.5 L647.0 1086.0 L648.4 1082.9 L649.8 1081.4 L650.9 1078.0 L652.1 1076.0 L653.2 1072.6 L654.3 1070.2 L655.5 1068.1 L656.6 1065.3 L657.8 1062.0 L658.9 1059.7 L660.0 1056.4 L661.2 1054.5 L662.4 1051.3 L663.5 1048.5 L664.6 1046.6 L665.8 1044.0 L667.0 1040.3 L668.1 1038.4 L669.2 1035.0 L670.4 1033.1 L671.7 1030.3 L673.0 1028.4 L674.3 1025.4 L675.6 1023.8 L676.9 1021.2 L678.2 1019.6 L679.5 1016.5 L681.3 1014.2 L683.2 1012.0 L685.0 1010.3 L686.9 1007.1 L688.7 1005.5 L691.0 1003.6 L693.3 1002.9 L695.6 1000.6 L697.1 997.9 L698.6 994.2 L700.1 992.0 L701.2 988.5 L702.4 986.3 L703.6 982.4 L704.7 980.3 L707.0 978.3 L709.3 977.3 L711.6 975.2 L714.7 974.5 L717.7 972.5 L720.8 971.6 L723.1 968.9 L725.4 967.6 L727.7 966.3 L730.0 964.5 L732.2 961.2 L734.5 959.8 L736.8 956.9 L739.0 955.1 L740.8 952.7 L742.7 951.6 L744.5 949.7 L746.4 948.1 L748.2 945.5 L750.5 944.8 L752.8 942.5 L755.1 941.7 L757.4 939.8 L760.8 941.8 L764.3 942.0 L766.0 940.8 L767.7 938.0 L769.4 936.7 L771.1 934.1 L773.4 933.4 L775.7 931.4 L778.0 930.7 L780.3 928.8 L782.6 927.8 L784.9 925.7 L787.6 925.7 L790.4 924.2 L793.1 923.8 L795.9 922.5 L798.6 922.1 L801.4 920.3 L804.1 920.0 L806.9 917.9 L809.6 917.6 L812.4 915.5 L815.2 916.6 L818.0 915.9 L820.8 917.1 L823.6 916.4 L825.7 915.5 L827.9 913.3 L830.0 912.0 L832.1 909.8 L834.8 910.5 L837.5 910.4 L840.1 911.3 L842.8 910.9 L845.0 909.0 L847.1 905.5 L849.8 905.5 L852.5 904.2 L855.1 904.1 L857.8 902.9 L860.8 903.7 L863.8 903.4 L866.8 904.7 L869.8 904.3 L872.8 905.5 L874.9 902.9 L877.1 901.9 L879.2 899.4 L881.8 899.3 L884.3 898.4 L886.9 897.3 L889.4 895.7 L892.0 895.9 L894.6 894.5 L897.2 894.4 L899.8 893.3 L902.4 892.9 L905.0 891.9 L907.6 891.7 L910.3 890.5 L913.0 891.0 L915.6 889.7 L918.2 890.2 L920.8 888.9 L923.3 889.0 L925.9 888.1 L928.5 887.7 L931.2 887.1 L933.9 887.3 L936.5 885.9 L939.2 885.1 L942.0 884.1 L944.9 883.3 L947.7 881.0 L950.9 882.3 L954.2 881.4 L957.4 882.4 L960.6 882.3 L963.4 882.6 L966.3 882.3 L969.1 883.1 L972.4 884.1 L975.6 887.0 L977.7 884.6 L979.9 883.4 L982.0 881.1 L984.7 881.7 L987.4 881.0 L990.0 881.7 L992.7 882.0 L995.6 880.9 L998.4 879.7 L1001.3 878.8 L1004.0 879.3 L1006.6 880.8 L1009.3 880.6 L1012.0 881.7 L1014.8 881.9 L1017.7 883.3 L1020.5 883.4 L1023.1 883.1 L1025.7 881.3 L1028.2 881.3 L1030.8 879.8 L1033.4 879.3" fill="none" stroke="#222222" stroke-width="4.2" stroke-linejoin="round" opacity="1.0"/>
<path d="M113.8 753.0 L1035.6 753.0 L1035.6 1258.5 L113.8 1258.5 Z" fill="none" stroke="#000" stroke-width="2.8"/>
<line x1="101.5" y1="840.4" x2="113.8" y2="840.4" stroke="#000" stroke-width="2.8"/>
<text x="88.5" y="850.4" font-size="27.5" text-anchor="end">0.7</text>
<line x1="101.5" y1="932.9" x2="113.8" y2="932.9" stroke="#000" stroke-width="2.8"/>
<text x="88.5" y="942.9" font-size="27.5" text-anchor="end">0.6</text>
<line x1="101.5" y1="1025.4" x2="113.8" y2="1025.4" stroke="#000" stroke-width="2.8"/>
<text x="88.5" y="1035.4" font-size="27.5" text-anchor="end">0.5</text>
<line x1="101.5" y1="1117.9" x2="113.8" y2="1117.9" stroke="#000" stroke-width="2.8"/>
<text x="88.5" y="1127.9" font-size="27.5" text-anchor="end">0.4</text>
<line x1="101.5" y1="1210.4" x2="113.8" y2="1210.4" stroke="#000" stroke-width="2.8"/>
<text x="88.5" y="1220.4" font-size="27.5" text-anchor="end">0.3</text>
<line x1="113.8" y1="1258.5" x2="113.8" y2="1271.5" stroke="#000" stroke-width="2.8"/>
<line x1="521.9" y1="1258.5" x2="521.9" y2="1271.5" stroke="#000" stroke-width="2.8"/>
<line x1="625.0" y1="1258.5" x2="625.0" y2="1271.5" stroke="#000" stroke-width="2.8"/>
<line x1="1035.6" y1="1258.5" x2="1035.6" y2="1271.5" stroke="#000" stroke-width="2.8"/>
<text x="118" y="1305.7" font-size="26" textLength="48" lengthAdjust="spacingAndGlyphs">-2.0</text>
<text x="520.5" y="1304.5" font-size="26" text-anchor="middle">TSS</text>
<text x="623.5" y="1304.5" font-size="26" text-anchor="middle">TES</text>
<text x="938.5" y="1304.5" font-size="26" textLength="73" lengthAdjust="spacingAndGlyphs">2.0Kb</text>
<text transform="translate(36.7 1006) rotate(-90) scale(1 0.944)" x="0" y="0" font-size="36" font-weight="bold" text-anchor="middle">mCG/CG</text>
<text x="125" y="1099" font-size="20" font-weight="bold" textLength="277" lengthAdjust="spacingAndGlyphs">Gene expression categories</text>
<rect x="128.8" y="1118.7" width="32.7" height="7.6" fill="#111"/>
<rect x="128.8" y="1148.8" width="32.7" height="7.6" fill="#d01c8b"/>
<rect x="128.8" y="1175.7" width="32.7" height="7.6" fill="#f1b6da"/>
<rect x="128.8" y="1202.2" width="32.7" height="7.6" fill="#bfdc9a"/>
<rect x="128.8" y="1228.9" width="32.7" height="7.6" fill="#4dac26"/>
<text x="174.5" y="1130.6" font-size="20.7"><tspan font-weight="bold">non-expressed</tspan> (n=24,598)</text>
<text x="431.5" y="1130.6" font-size="20.7" font-weight="bold">OFF</text>
<text x="174.5" y="1160.5" font-size="20.7"><tspan font-weight="bold">1, lowest</tspan> (n=1,270)</text>
<text x="174.5" y="1187" font-size="20.7">2, low (n=1,269)</text>
<text x="174.5" y="1213" font-size="20.7">3, high (n= 1,269)</text>
<text x="174.5" y="1239.4" font-size="20.7">4, <tspan font-weight="bold">highest</tspan> (n= 1,270)</text>
<text x="399.4" y="1198.2" font-size="20.7" font-weight="bold">ON</text>
<text x="748.5" y="1099" font-size="20.5" font-weight="bold">Spearman's rank correlation</text>
<text x="755" y="1123" font-size="20.5" font-weight="bold">Promoter</text>
<text x="761" y="1147.5" font-size="20.5">rho= -0.33</text>
<text x="761" y="1171.5" font-size="20.5"><tspan font-style="italic">P</tspan>&lt; 2.2e-16</text>
<text x="748.5" y="1196.5" font-size="20.5" font-weight="bold">Gene body</text>
<text x="761" y="1221" font-size="20.5">rho= -0.02</text>
<text x="761" y="1245.5" font-size="20.5"><tspan font-style="italic">P</tspan>=0.004</text>
</svg>
</body></html>
